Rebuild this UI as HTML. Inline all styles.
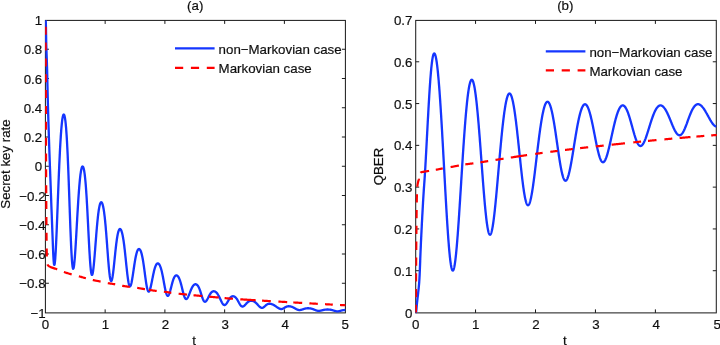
<!DOCTYPE html>
<html lang="en"><head><meta charset="utf-8"><title>Secret key rate and QBER</title>
<style>html,body{margin:0;padding:0;background:#fff;}body{width:720px;height:345px;overflow:hidden;font-family:"Liberation Sans",Arial,sans-serif;}svg text{white-space:pre;stroke:#111;stroke-width:0.2px;paint-order:stroke;}</style>
</head><body>
<svg width="720" height="345" viewBox="0 0 720 345" style="display:block" font-family="'Liberation Sans', Arial, Helvetica, sans-serif" font-size="13.3" fill="#111">
<rect width="720" height="345" fill="#fff"/>
<filter id="soft" x="0" y="0" width="720" height="345" filterUnits="userSpaceOnUse"><feGaussianBlur stdDeviation="0.35"/></filter>
<g filter="url(#soft)">
<defs><clipPath id="cl"><rect x="45.1" y="19.9" width="300.7" height="293.5"/></clipPath><clipPath id="cr"><rect x="415.4" y="19.9" width="301.4" height="293.5"/></clipPath></defs>
<rect x="45.4" y="20.4" width="300" height="292.5" fill="none" stroke="#1a1a1a" stroke-width="1"/><path d="M105.15 312.9v-3.5M105.15 20.4v3.5M164.9 312.9v-3.5M164.9 20.4v3.5M224.65 312.9v-3.5M224.65 20.4v3.5M284.4 312.9v-3.5M284.4 20.4v3.5M45.4 49.25h3.5M345.4 49.25h-3.5M45.4 78.5h3.5M345.4 78.5h-3.5M45.4 107.75h3.5M345.4 107.75h-3.5M45.4 137h3.5M345.4 137h-3.5M45.4 166.25h3.5M345.4 166.25h-3.5M45.4 195.5h3.5M345.4 195.5h-3.5M45.4 224.75h3.5M345.4 224.75h-3.5M45.4 254h3.5M345.4 254h-3.5M45.4 283.25h3.5M345.4 283.25h-3.5" stroke="#1a1a1a" stroke-width="1" fill="none"/>
<g clip-path="url(#cl)" fill="none" stroke-linejoin="round">
<path d="M45.4 20.61 L45.59 20.62 L45.78 21.66 L45.96 27.36 L46.15 39.56 L46.34 47 L46.53 52.66 L46.71 57.57 L46.9 62.72 L47.09 69.29 L47.28 77.09 L47.46 85.52 L47.65 93.93 L47.84 101.5 L48.03 108.41 L48.21 114.96 L48.4 121.21 L48.59 127.24 L48.78 133.14 L48.96 138.98 L49.15 144.76 L49.34 150.29 L49.53 155.62 L49.72 160.79 L49.9 165.85 L50.09 170.85 L50.28 175.85 L50.47 180.88 L50.65 185.99 L50.84 191.23 L51.03 196.41 L51.22 201.47 L51.4 206.46 L51.59 211.39 L51.78 216.29 L51.97 221.18 L52.15 226.06 L52.34 230.92 L52.53 235.76 L52.72 240.68 L52.9 245.57 L53.09 250.21 L53.28 254.4 L53.47 257.99 L53.66 260.87 L53.84 262.97 L54.03 264.29 L54.22 264.89 L54.41 264.87 L54.59 264.29 L54.78 263.19 L54.97 261.6 L55.16 259.55 L55.34 257.08 L55.53 254.22 L55.72 251 L55.91 247.47 L56.09 243.66 L56.28 239.6 L56.47 235.32 L56.66 230.86 L56.84 226.26 L57.03 221.54 L57.22 216.73 L57.41 211.86 L57.6 206.95 L57.78 202.04 L57.97 197.14 L58.16 192.28 L58.35 187.47 L58.53 182.74 L58.72 178.1 L58.91 173.57 L59.1 169.15 L59.28 164.87 L59.47 160.73 L59.66 156.74 L59.85 152.92 L60.03 149.26 L60.22 145.78 L60.41 142.48 L60.6 139.36 L60.78 136.42 L60.97 133.67 L61.16 131.11 L61.35 128.74 L61.54 126.56 L61.72 124.57 L61.91 122.76 L62.1 121.14 L62.29 119.71 L62.47 118.45 L62.66 117.37 L62.85 116.46 L63.04 115.73 L63.22 115.17 L63.41 114.78 L63.6 114.56 L63.79 114.5 L63.97 114.61 L64.16 114.89 L64.35 115.33 L64.54 115.94 L64.72 116.72 L64.91 117.68 L65.1 118.82 L65.29 120.14 L65.48 121.66 L65.66 123.38 L65.85 125.29 L66.04 127.42 L66.23 129.75 L66.41 132.31 L66.6 135.08 L66.79 138.09 L66.98 141.32 L67.16 144.77 L67.35 148.46 L67.54 152.37 L67.73 156.49 L67.91 160.83 L68.1 165.36 L68.29 170.08 L68.48 174.97 L68.66 180 L68.85 185.15 L69.04 190.4 L69.23 195.72 L69.42 201.08 L69.6 206.45 L69.79 211.79 L69.98 217.06 L70.17 222.24 L70.35 227.29 L70.54 232.16 L70.73 236.84 L70.92 241.28 L71.1 245.46 L71.29 249.35 L71.48 252.92 L71.67 256.16 L71.85 259.05 L72.04 261.56 L72.23 263.71 L72.42 265.47 L72.6 266.85 L72.79 267.85 L72.98 268.48 L73.17 268.74 L73.35 268.65 L73.54 268.22 L73.73 267.47 L73.92 266.42 L74.11 265.07 L74.29 263.45 L74.48 261.57 L74.67 259.47 L74.86 257.15 L75.04 254.64 L75.23 251.96 L75.42 249.13 L75.61 246.17 L75.79 243.1 L75.98 239.94 L76.17 236.71 L76.36 233.42 L76.54 230.1 L76.73 226.76 L76.92 223.42 L77.11 220.1 L77.29 216.8 L77.48 213.54 L77.67 210.34 L77.86 207.21 L78.05 204.15 L78.23 201.17 L78.42 198.29 L78.61 195.52 L78.8 192.85 L78.98 190.3 L79.17 187.87 L79.36 185.56 L79.55 183.38 L79.73 181.33 L79.92 179.42 L80.11 177.64 L80.3 175.99 L80.48 174.48 L80.67 173.11 L80.86 171.87 L81.05 170.76 L81.23 169.78 L81.42 168.93 L81.61 168.22 L81.8 167.62 L81.99 167.16 L82.17 166.82 L82.36 166.6 L82.55 166.51 L82.74 166.53 L82.92 166.68 L83.11 166.95 L83.3 167.34 L83.49 167.86 L83.67 168.5 L83.86 169.27 L84.05 170.17 L84.24 171.21 L84.42 172.39 L84.61 173.71 L84.8 175.18 L84.99 176.8 L85.17 178.58 L85.36 180.51 L85.55 182.6 L85.74 184.86 L85.93 187.27 L86.11 189.85 L86.3 192.59 L86.49 195.48 L86.68 198.52 L86.86 201.7 L87.05 205 L87.24 208.43 L87.43 211.97 L87.61 215.59 L87.8 219.28 L87.99 223.03 L88.18 226.8 L88.36 230.58 L88.55 234.34 L88.74 238.07 L88.93 241.72 L89.11 245.29 L89.3 248.74 L89.49 252.06 L89.68 255.21 L89.87 258.18 L90.05 260.95 L90.24 263.5 L90.43 265.81 L90.62 267.88 L90.8 269.69 L90.99 271.24 L91.18 272.51 L91.37 273.52 L91.55 274.26 L91.74 274.73 L91.93 274.94 L92.12 274.89 L92.3 274.61 L92.49 274.09 L92.68 273.35 L92.87 272.39 L93.05 271.24 L93.24 269.89 L93.43 268.38 L93.62 266.71 L93.81 264.9 L93.99 262.96 L94.18 260.9 L94.37 258.75 L94.56 256.52 L94.74 254.22 L94.93 251.87 L95.12 249.48 L95.31 247.06 L95.49 244.63 L95.68 242.21 L95.87 239.79 L96.06 237.4 L96.24 235.04 L96.43 232.72 L96.62 230.46 L96.81 228.25 L96.99 226.12 L97.18 224.05 L97.37 222.07 L97.56 220.17 L97.75 218.36 L97.93 216.64 L98.12 215.01 L98.31 213.48 L98.5 212.05 L98.68 210.72 L98.87 209.5 L99.06 208.37 L99.25 207.34 L99.43 206.41 L99.62 205.57 L99.81 204.84 L100 204.2 L100.18 203.65 L100.37 203.2 L100.56 202.83 L100.75 202.56 L100.93 202.37 L101.12 202.27 L101.31 202.25 L101.5 202.32 L101.69 202.48 L101.87 202.72 L102.06 203.04 L102.25 203.45 L102.44 203.94 L102.62 204.52 L102.81 205.18 L103 205.94 L103.19 206.78 L103.37 207.72 L103.56 208.75 L103.75 209.87 L103.94 211.09 L104.12 212.41 L104.31 213.82 L104.5 215.33 L104.69 216.94 L104.87 218.65 L105.06 220.46 L105.25 222.36 L105.44 224.35 L105.63 226.43 L105.81 228.6 L106 230.84 L106.19 233.15 L106.38 235.52 L106.56 237.95 L106.75 240.42 L106.94 242.93 L107.13 245.46 L107.31 247.99 L107.5 250.53 L107.69 253.04 L107.88 255.53 L108.06 257.97 L108.25 260.35 L108.44 262.66 L108.63 264.89 L108.81 267.01 L109 269.02 L109.19 270.91 L109.38 272.66 L109.57 274.26 L109.75 275.71 L109.94 276.99 L110.13 278.11 L110.32 279.05 L110.5 279.81 L110.69 280.39 L110.88 280.79 L111.07 281 L111.25 281.04 L111.44 280.9 L111.63 280.59 L111.82 280.12 L112 279.48 L112.19 278.69 L112.38 277.75 L112.57 276.68 L112.75 275.48 L112.94 274.17 L113.13 272.75 L113.32 271.23 L113.51 269.64 L113.69 267.97 L113.88 266.25 L114.07 264.48 L114.26 262.67 L114.44 260.84 L114.63 259 L114.82 257.15 L115.01 255.32 L115.19 253.5 L115.38 251.71 L115.57 249.96 L115.76 248.25 L115.94 246.59 L116.13 244.99 L116.32 243.46 L116.51 241.99 L116.69 240.59 L116.88 239.27 L117.07 238.03 L117.26 236.87 L117.45 235.78 L117.63 234.79 L117.82 233.87 L118.01 233.04 L118.2 232.29 L118.38 231.62 L118.57 231.03 L118.76 230.52 L118.95 230.09 L119.13 229.73 L119.32 229.45 L119.51 229.23 L119.7 229.09 L119.88 229.01 L120.07 229 L120.26 229.06 L120.45 229.18 L120.63 229.37 L120.82 229.62 L121.01 229.93 L121.2 230.31 L121.38 230.75 L121.57 231.26 L121.76 231.83 L121.95 232.46 L122.14 233.17 L122.32 233.94 L122.51 234.78 L122.7 235.69 L122.89 236.67 L123.07 237.72 L123.26 238.84 L123.45 240.03 L123.64 241.29 L123.82 242.62 L124.01 244.01 L124.2 245.47 L124.39 246.99 L124.57 248.57 L124.76 250.19 L124.95 251.87 L125.14 253.59 L125.32 255.35 L125.51 257.13 L125.7 258.93 L125.89 260.75 L126.08 262.57 L126.26 264.39 L126.45 266.19 L126.64 267.97 L126.83 269.72 L127.01 271.42 L127.2 273.07 L127.39 274.66 L127.58 276.17 L127.76 277.61 L127.95 278.96 L128.14 280.21 L128.33 281.36 L128.51 282.4 L128.7 283.33 L128.89 284.14 L129.08 284.82 L129.26 285.38 L129.45 285.82 L129.64 286.12 L129.83 286.3 L130.02 286.35 L130.2 286.28 L130.39 286.08 L130.58 285.77 L130.77 285.35 L130.95 284.82 L131.14 284.19 L131.33 283.47 L131.52 282.66 L131.7 281.76 L131.89 280.8 L132.08 279.76 L132.27 278.67 L132.45 277.53 L132.64 276.35 L132.83 275.13 L133.02 273.88 L133.2 272.61 L133.39 271.33 L133.58 270.05 L133.77 268.77 L133.96 267.49 L134.14 266.23 L134.33 264.99 L134.52 263.78 L134.71 262.59 L134.89 261.44 L135.08 260.33 L135.27 259.27 L135.46 258.24 L135.64 257.27 L135.83 256.35 L136.02 255.48 L136.21 254.67 L136.39 253.91 L136.58 253.2 L136.77 252.55 L136.96 251.96 L137.14 251.43 L137.33 250.95 L137.52 250.52 L137.71 250.15 L137.9 249.83 L138.08 249.57 L138.27 249.36 L138.46 249.19 L138.65 249.08 L138.83 249.02 L139.02 249 L139.21 249.03 L139.4 249.11 L139.58 249.24 L139.77 249.41 L139.96 249.63 L140.15 249.9 L140.33 250.22 L140.52 250.58 L140.71 251 L140.9 251.47 L141.08 251.99 L141.27 252.57 L141.46 253.2 L141.65 253.89 L141.84 254.63 L142.02 255.43 L142.21 256.29 L142.4 257.21 L142.59 258.18 L142.77 259.21 L142.96 260.3 L143.15 261.43 L143.34 262.62 L143.52 263.86 L143.71 265.14 L143.9 266.46 L144.09 267.81 L144.27 269.19 L144.46 270.59 L144.65 272 L144.84 273.42 L145.02 274.84 L145.21 276.25 L145.4 277.64 L145.59 279.01 L145.78 280.34 L145.96 281.63 L146.15 282.87 L146.34 284.05 L146.53 285.16 L146.71 286.2 L146.9 287.17 L147.09 288.04 L147.28 288.83 L147.46 289.53 L147.65 290.13 L147.84 290.63 L148.03 291.03 L148.21 291.33 L148.4 291.53 L148.59 291.64 L148.78 291.64 L148.96 291.55 L149.15 291.37 L149.34 291.11 L149.53 290.76 L149.72 290.33 L149.9 289.83 L150.09 289.26 L150.28 288.62 L150.47 287.93 L150.65 287.18 L150.84 286.39 L151.03 285.56 L151.22 284.69 L151.4 283.79 L151.59 282.87 L151.78 281.94 L151.97 280.99 L152.15 280.03 L152.34 279.07 L152.53 278.12 L152.72 277.17 L152.9 276.24 L153.09 275.32 L153.28 274.42 L153.47 273.54 L153.66 272.69 L153.84 271.87 L154.03 271.09 L154.22 270.33 L154.41 269.61 L154.59 268.93 L154.78 268.29 L154.97 267.68 L155.16 267.12 L155.34 266.59 L155.53 266.11 L155.72 265.67 L155.91 265.27 L156.09 264.91 L156.28 264.59 L156.47 264.31 L156.66 264.07 L156.84 263.86 L157.03 263.7 L157.22 263.57 L157.41 263.48 L157.6 263.42 L157.78 263.4 L157.97 263.41 L158.16 263.46 L158.35 263.55 L158.53 263.67 L158.72 263.82 L158.91 264.01 L159.1 264.23 L159.28 264.49 L159.47 264.78 L159.66 265.11 L159.85 265.48 L160.03 265.88 L160.22 266.33 L160.41 266.81 L160.6 267.33 L160.78 267.89 L160.97 268.49 L161.16 269.13 L161.35 269.81 L161.54 270.53 L161.72 271.29 L161.91 272.08 L162.1 272.92 L162.29 273.78 L162.47 274.68 L162.66 275.61 L162.85 276.57 L163.04 277.55 L163.22 278.56 L163.41 279.58 L163.6 280.6 L163.79 281.64 L163.97 282.68 L164.16 283.71 L164.35 284.74 L164.54 285.75 L164.72 286.74 L164.91 287.71 L165.1 288.64 L165.29 289.54 L165.48 290.39 L165.66 291.19 L165.85 291.95 L166.04 292.64 L166.23 293.28 L166.41 293.85 L166.6 294.35 L166.79 294.78 L166.98 295.14 L167.16 295.43 L167.35 295.64 L167.54 295.78 L167.73 295.84 L167.91 295.84 L168.1 295.76 L168.29 295.61 L168.48 295.39 L168.66 295.11 L168.85 294.77 L169.04 294.37 L169.23 293.92 L169.42 293.41 L169.6 292.86 L169.79 292.28 L169.98 291.65 L170.17 291 L170.35 290.31 L170.54 289.61 L170.73 288.89 L170.92 288.16 L171.1 287.42 L171.29 286.69 L171.48 285.95 L171.67 285.22 L171.85 284.5 L172.04 283.79 L172.23 283.1 L172.42 282.43 L172.6 281.78 L172.79 281.16 L172.98 280.56 L173.17 280 L173.35 279.46 L173.54 278.96 L173.73 278.49 L173.92 278.06 L174.11 277.66 L174.29 277.29 L174.48 276.96 L174.67 276.66 L174.86 276.39 L175.04 276.16 L175.23 275.96 L175.42 275.79 L175.61 275.65 L175.79 275.55 L175.98 275.47 L176.17 275.42 L176.36 275.4 L176.54 275.41 L176.73 275.44 L176.92 275.51 L177.11 275.59 L177.29 275.71 L177.48 275.85 L177.67 276.02 L177.86 276.22 L178.05 276.44 L178.23 276.7 L178.42 276.98 L178.61 277.29 L178.8 277.63 L178.98 278 L179.17 278.41 L179.36 278.84 L179.55 279.31 L179.73 279.8 L179.92 280.33 L180.11 280.89 L180.3 281.48 L180.48 282.09 L180.67 282.74 L180.86 283.41 L181.05 284.1 L181.23 284.81 L181.42 285.55 L181.61 286.3 L181.8 287.06 L181.99 287.83 L182.17 288.6 L182.36 289.38 L182.55 290.15 L182.74 290.92 L182.92 291.67 L183.11 292.41 L183.3 293.12 L183.49 293.81 L183.67 294.47 L183.86 295.1 L184.05 295.69 L184.24 296.24 L184.42 296.74 L184.61 297.2 L184.8 297.61 L184.99 297.97 L185.17 298.28 L185.36 298.54 L185.55 298.75 L185.74 298.9 L185.93 299 L186.11 299.05 L186.3 299.04 L186.49 298.99 L186.68 298.89 L186.86 298.75 L187.05 298.57 L187.24 298.34 L187.43 298.08 L187.61 297.79 L187.8 297.46 L187.99 297.11 L188.18 296.73 L188.36 296.33 L188.55 295.9 L188.74 295.47 L188.93 295.01 L189.11 294.55 L189.3 294.07 L189.49 293.59 L189.68 293.11 L189.87 292.63 L190.05 292.14 L190.24 291.66 L190.43 291.19 L190.62 290.72 L190.8 290.26 L190.99 289.81 L191.18 289.37 L191.37 288.95 L191.55 288.54 L191.74 288.14 L191.93 287.77 L192.12 287.41 L192.3 287.06 L192.49 286.74 L192.68 286.43 L192.87 286.15 L193.05 285.88 L193.24 285.64 L193.43 285.41 L193.62 285.21 L193.81 285.03 L193.99 284.86 L194.18 284.72 L194.37 284.59 L194.56 284.49 L194.74 284.4 L194.93 284.34 L195.12 284.29 L195.31 284.26 L195.49 284.25 L195.68 284.26 L195.87 284.29 L196.06 284.33 L196.24 284.4 L196.43 284.48 L196.62 284.58 L196.81 284.71 L196.99 284.85 L197.18 285.02 L197.37 285.2 L197.56 285.41 L197.75 285.65 L197.93 285.9 L198.12 286.18 L198.31 286.49 L198.5 286.82 L198.68 287.17 L198.87 287.55 L199.06 287.96 L199.25 288.39 L199.43 288.85 L199.62 289.33 L199.81 289.84 L200 290.36 L200.18 290.91 L200.37 291.47 L200.56 292.05 L200.75 292.64 L200.93 293.24 L201.12 293.84 L201.31 294.45 L201.5 295.06 L201.69 295.66 L201.87 296.25 L202.06 296.83 L202.25 297.39 L202.44 297.92 L202.62 298.44 L202.81 298.92 L203 299.38 L203.19 299.8 L203.37 300.18 L203.56 300.52 L203.75 300.82 L203.94 301.08 L204.12 301.3 L204.31 301.47 L204.5 301.6 L204.69 301.69 L204.87 301.74 L205.06 301.75 L205.25 301.72 L205.44 301.65 L205.63 301.54 L205.81 301.4 L206 301.23 L206.19 301.03 L206.38 300.8 L206.56 300.55 L206.75 300.27 L206.94 299.97 L207.13 299.65 L207.31 299.32 L207.5 298.98 L207.69 298.62 L207.88 298.26 L208.06 297.89 L208.25 297.52 L208.44 297.14 L208.63 296.77 L208.81 296.4 L209 296.04 L209.19 295.68 L209.38 295.33 L209.57 294.99 L209.75 294.67 L209.94 294.35 L210.13 294.05 L210.32 293.76 L210.5 293.48 L210.69 293.22 L210.88 292.98 L211.07 292.75 L211.25 292.54 L211.44 292.35 L211.63 292.17 L211.82 292.01 L212 291.87 L212.19 291.74 L212.38 291.62 L212.57 291.53 L212.75 291.44 L212.94 291.38 L213.13 291.32 L213.32 291.29 L213.51 291.26 L213.69 291.25 L213.88 291.25 L214.07 291.27 L214.26 291.3 L214.44 291.34 L214.63 291.4 L214.82 291.46 L215.01 291.54 L215.19 291.64 L215.38 291.74 L215.57 291.86 L215.76 291.99 L215.94 292.14 L216.13 292.3 L216.32 292.47 L216.51 292.66 L216.69 292.86 L216.88 293.07 L217.07 293.3 L217.26 293.54 L217.45 293.79 L217.63 294.06 L217.82 294.35 L218.01 294.64 L218.2 294.95 L218.38 295.28 L218.57 295.61 L218.76 295.96 L218.95 296.32 L219.13 296.69 L219.32 297.06 L219.51 297.45 L219.7 297.84 L219.88 298.24 L220.07 298.64 L220.26 299.05 L220.45 299.45 L220.63 299.86 L220.82 300.26 L221.01 300.66 L221.2 301.05 L221.38 301.43 L221.57 301.81 L221.76 302.17 L221.95 302.52 L222.14 302.85 L222.32 303.17 L222.51 303.46 L222.7 303.73 L222.89 303.99 L223.07 304.21 L223.26 304.42 L223.45 304.59 L223.64 304.74 L223.82 304.86 L224.01 304.95 L224.2 305.01 L224.39 305.05 L224.57 305.05 L224.76 305.02 L224.95 304.97 L225.14 304.88 L225.32 304.77 L225.51 304.64 L225.7 304.48 L225.89 304.29 L226.08 304.09 L226.26 303.86 L226.45 303.62 L226.64 303.35 L226.83 303.08 L227.01 302.79 L227.2 302.49 L227.39 302.19 L227.58 301.87 L227.76 301.56 L227.95 301.24 L228.14 300.92 L228.33 300.6 L228.51 300.28 L228.7 299.97 L228.89 299.67 L229.08 299.37 L229.26 299.08 L229.45 298.81 L229.64 298.54 L229.83 298.29 L230.02 298.05 L230.2 297.83 L230.39 297.62 L230.58 297.42 L230.77 297.24 L230.95 297.08 L231.14 296.93 L231.33 296.8 L231.52 296.68 L231.7 296.57 L231.89 296.49 L232.08 296.41 L232.27 296.35 L232.45 296.31 L232.64 296.27 L232.83 296.26 L233.02 296.25 L233.2 296.26 L233.39 296.28 L233.58 296.31 L233.77 296.36 L233.96 296.41 L234.14 296.48 L234.33 296.57 L234.52 296.66 L234.71 296.77 L234.89 296.89 L235.08 297.03 L235.27 297.18 L235.46 297.34 L235.64 297.52 L235.83 297.71 L236.02 297.92 L236.21 298.14 L236.39 298.38 L236.58 298.63 L236.77 298.9 L236.96 299.17 L237.14 299.46 L237.33 299.77 L237.52 300.08 L237.71 300.4 L237.9 300.74 L238.08 301.08 L238.27 301.42 L238.46 301.77 L238.65 302.12 L238.83 302.47 L239.02 302.81 L239.21 303.15 L239.4 303.49 L239.58 303.82 L239.77 304.13 L239.96 304.43 L240.15 304.72 L240.33 304.99 L240.52 305.24 L240.71 305.48 L240.9 305.69 L241.08 305.88 L241.27 306.05 L241.46 306.19 L241.65 306.31 L241.84 306.4 L242.02 306.47 L242.21 306.52 L242.4 306.55 L242.59 306.55 L242.77 306.53 L242.96 306.49 L243.15 306.43 L243.34 306.34 L243.52 306.25 L243.71 306.13 L243.9 306 L244.09 305.86 L244.27 305.7 L244.46 305.53 L244.65 305.36 L244.84 305.17 L245.02 304.98 L245.21 304.78 L245.4 304.58 L245.59 304.37 L245.78 304.17 L245.96 303.96 L246.15 303.76 L246.34 303.55 L246.53 303.35 L246.71 303.16 L246.9 302.96 L247.09 302.78 L247.28 302.6 L247.46 302.43 L247.65 302.26 L247.84 302.1 L248.03 301.95 L248.21 301.81 L248.4 301.68 L248.59 301.56 L248.78 301.44 L248.96 301.34 L249.15 301.24 L249.34 301.15 L249.53 301.08 L249.72 301.01 L249.9 300.95 L250.09 300.89 L250.28 300.85 L250.47 300.81 L250.65 300.79 L250.84 300.77 L251.03 300.76 L251.22 300.75 L251.4 300.75 L251.59 300.76 L251.78 300.78 L251.97 300.8 L252.15 300.83 L252.34 300.87 L252.53 300.91 L252.72 300.96 L252.9 301.02 L253.09 301.08 L253.28 301.15 L253.47 301.23 L253.66 301.31 L253.84 301.4 L254.03 301.5 L254.22 301.6 L254.41 301.71 L254.59 301.83 L254.78 301.96 L254.97 302.09 L255.16 302.23 L255.34 302.37 L255.53 302.52 L255.72 302.68 L255.91 302.85 L256.09 303.02 L256.28 303.2 L256.47 303.38 L256.66 303.57 L256.84 303.76 L257.03 303.96 L257.22 304.16 L257.41 304.36 L257.6 304.56 L257.78 304.77 L257.97 304.98 L258.16 305.19 L258.35 305.39 L258.53 305.6 L258.72 305.8 L258.91 305.99 L259.1 306.19 L259.28 306.37 L259.47 306.55 L259.66 306.72 L259.85 306.88 L260.03 307.04 L260.22 307.18 L260.41 307.31 L260.6 307.43 L260.78 307.53 L260.97 307.62 L261.16 307.7 L261.35 307.76 L261.54 307.8 L261.72 307.83 L261.91 307.85 L262.1 307.85 L262.29 307.83 L262.47 307.8 L262.66 307.75 L262.85 307.68 L263.04 307.6 L263.22 307.51 L263.41 307.4 L263.6 307.28 L263.79 307.14 L263.97 307 L264.16 306.85 L264.35 306.69 L264.54 306.53 L264.72 306.36 L264.91 306.18 L265.1 306.01 L265.29 305.84 L265.48 305.66 L265.66 305.5 L265.85 305.33 L266.04 305.17 L266.23 305.02 L266.41 304.87 L266.6 304.73 L266.79 304.6 L266.98 304.48 L267.16 304.37 L267.35 304.27 L267.54 304.18 L267.73 304.09 L267.91 304.02 L268.1 303.96 L268.29 303.9 L268.48 303.86 L268.66 303.82 L268.85 303.79 L269.04 303.77 L269.23 303.76 L269.42 303.75 L269.6 303.75 L269.79 303.76 L269.98 303.77 L270.17 303.79 L270.35 303.81 L270.54 303.84 L270.73 303.88 L270.92 303.92 L271.1 303.96 L271.29 304.01 L271.48 304.06 L271.67 304.12 L271.85 304.18 L272.04 304.24 L272.23 304.31 L272.42 304.39 L272.6 304.46 L272.79 304.54 L272.98 304.63 L273.17 304.72 L273.35 304.81 L273.54 304.91 L273.73 305.01 L273.92 305.11 L274.11 305.21 L274.29 305.32 L274.48 305.44 L274.67 305.55 L274.86 305.67 L275.04 305.79 L275.23 305.91 L275.42 306.04 L275.61 306.16 L275.79 306.29 L275.98 306.42 L276.17 306.55 L276.36 306.68 L276.54 306.81 L276.73 306.95 L276.92 307.08 L277.11 307.21 L277.29 307.34 L277.48 307.47 L277.67 307.59 L277.86 307.72 L278.05 307.84 L278.23 307.96 L278.42 308.07 L278.61 308.19 L278.8 308.29 L278.98 308.39 L279.17 308.49 L279.36 308.58 L279.55 308.66 L279.73 308.74 L279.92 308.81 L280.11 308.87 L280.3 308.92 L280.48 308.97 L280.67 309 L280.86 309.03 L281.05 309.04 L281.23 309.05 L281.42 309.05 L281.61 309.03 L281.8 309.01 L281.99 308.97 L282.17 308.93 L282.36 308.87 L282.55 308.81 L282.74 308.73 L282.92 308.65 L283.11 308.56 L283.3 308.47 L283.49 308.36 L283.67 308.26 L283.86 308.14 L284.05 308.03 L284.24 307.91 L284.42 307.8 L284.61 307.68 L284.8 307.56 L284.99 307.45 L285.17 307.33 L285.36 307.22 L285.55 307.12 L285.74 307.02 L285.93 306.92 L286.11 306.83 L286.3 306.75 L286.49 306.67 L286.68 306.6 L286.86 306.54 L287.05 306.48 L287.24 306.43 L287.43 306.39 L287.61 306.35 L287.8 306.32 L287.99 306.29 L288.18 306.27 L288.36 306.26 L288.55 306.25 L288.74 306.25 L288.93 306.25 L289.11 306.26 L289.3 306.27 L289.49 306.29 L289.68 306.31 L289.87 306.33 L290.05 306.36 L290.24 306.39 L290.43 306.43 L290.62 306.47 L290.8 306.51 L290.99 306.56 L291.18 306.61 L291.37 306.66 L291.55 306.72 L291.74 306.79 L291.93 306.85 L292.12 306.92 L292.3 307 L292.49 307.07 L292.68 307.16 L292.87 307.24 L293.05 307.33 L293.24 307.42 L293.43 307.51 L293.62 307.61 L293.81 307.71 L293.99 307.81 L294.18 307.92 L294.37 308.02 L294.56 308.13 L294.74 308.24 L294.93 308.35 L295.12 308.46 L295.31 308.57 L295.49 308.67 L295.68 308.78 L295.87 308.89 L296.06 308.99 L296.24 309.09 L296.43 309.19 L296.62 309.28 L296.81 309.37 L296.99 309.46 L297.18 309.54 L297.37 309.62 L297.56 309.69 L297.75 309.75 L297.93 309.81 L298.12 309.87 L298.31 309.91 L298.5 309.95 L298.68 309.99 L298.87 310.01 L299.06 310.03 L299.25 310.04 L299.43 310.05 L299.62 310.05 L299.81 310.04 L300 310.03 L300.18 310.01 L300.37 309.98 L300.56 309.95 L300.75 309.91 L300.93 309.87 L301.12 309.83 L301.31 309.78 L301.5 309.73 L301.69 309.67 L301.87 309.61 L302.06 309.55 L302.25 309.49 L302.44 309.43 L302.62 309.36 L302.81 309.3 L303 309.23 L303.19 309.17 L303.37 309.1 L303.56 309.04 L303.75 308.98 L303.94 308.92 L304.12 308.86 L304.31 308.8 L304.5 308.75 L304.69 308.69 L304.87 308.64 L305.06 308.6 L305.25 308.55 L305.44 308.51 L305.63 308.47 L305.81 308.44 L306 308.41 L306.19 308.38 L306.38 308.35 L306.56 308.33 L306.75 308.31 L306.94 308.29 L307.13 308.28 L307.31 308.27 L307.5 308.26 L307.69 308.25 L307.88 308.25 L308.06 308.25 L308.25 308.25 L308.44 308.26 L308.63 308.26 L308.81 308.27 L309 308.29 L309.19 308.3 L309.38 308.32 L309.57 308.34 L309.75 308.36 L309.94 308.38 L310.13 308.41 L310.32 308.44 L310.5 308.47 L310.69 308.5 L310.88 308.54 L311.07 308.58 L311.25 308.62 L311.44 308.67 L311.63 308.71 L311.82 308.77 L312 308.82 L312.19 308.87 L312.38 308.93 L312.57 308.99 L312.75 309.06 L312.94 309.12 L313.13 309.19 L313.32 309.26 L313.51 309.34 L313.69 309.41 L313.88 309.49 L314.07 309.56 L314.26 309.64 L314.44 309.72 L314.63 309.79 L314.82 309.87 L315.01 309.95 L315.19 310.03 L315.38 310.1 L315.57 310.17 L315.76 310.24 L315.94 310.31 L316.13 310.38 L316.32 310.44 L316.51 310.5 L316.69 310.55 L316.88 310.6 L317.07 310.65 L317.26 310.69 L317.45 310.73 L317.63 310.76 L317.82 310.79 L318.01 310.81 L318.2 310.83 L318.38 310.84 L318.57 310.85 L318.76 310.85 L318.95 310.85 L319.13 310.84 L319.32 310.83 L319.51 310.81 L319.7 310.79 L319.88 310.77 L320.07 310.74 L320.26 310.71 L320.45 310.67 L320.63 310.64 L320.82 310.6 L321.01 310.56 L321.2 310.51 L321.38 310.47 L321.57 310.42 L321.76 310.38 L321.95 310.33 L322.14 310.28 L322.32 310.23 L322.51 310.19 L322.7 310.14 L322.89 310.09 L323.07 310.05 L323.26 310 L323.45 309.96 L323.64 309.92 L323.82 309.88 L324.01 309.84 L324.2 309.81 L324.39 309.77 L324.57 309.74 L324.76 309.71 L324.95 309.68 L325.14 309.65 L325.32 309.63 L325.51 309.61 L325.7 309.59 L325.89 309.57 L326.08 309.55 L326.26 309.54 L326.45 309.53 L326.64 309.52 L326.83 309.51 L327.01 309.51 L327.2 309.5 L327.39 309.5 L327.58 309.5 L327.76 309.5 L327.95 309.51 L328.14 309.51 L328.33 309.52 L328.51 309.53 L328.7 309.54 L328.89 309.55 L329.08 309.56 L329.26 309.58 L329.45 309.6 L329.64 309.62 L329.83 309.64 L330.02 309.67 L330.2 309.69 L330.39 309.72 L330.58 309.75 L330.77 309.79 L330.95 309.82 L331.14 309.86 L331.33 309.9 L331.52 309.94 L331.7 309.99 L331.89 310.03 L332.08 310.08 L332.27 310.13 L332.45 310.18 L332.64 310.24 L332.83 310.29 L333.02 310.35 L333.2 310.41 L333.39 310.47 L333.58 310.52 L333.77 310.58 L333.96 310.64 L334.14 310.7 L334.33 310.76 L334.52 310.82 L334.71 310.88 L334.89 310.93 L335.08 310.98 L335.27 311.03 L335.46 311.08 L335.64 311.12 L335.83 311.17 L336.02 311.2 L336.21 311.24 L336.39 311.27 L336.58 311.29 L336.77 311.31 L336.96 311.33 L337.14 311.34 L337.33 311.35 L337.52 311.35 L337.71 311.35 L337.9 311.34 L338.08 311.33 L338.27 311.31 L338.46 311.28 L338.65 311.26 L338.83 311.23 L339.02 311.19 L339.21 311.15 L339.4 311.11 L339.58 311.06 L339.77 311.01 L339.96 310.96 L340.15 310.91 L340.33 310.86 L340.52 310.8 L340.71 310.75 L340.9 310.69 L341.08 310.64 L341.27 310.59 L341.46 310.53 L341.65 310.48 L341.84 310.44 L342.02 310.39 L342.21 310.35 L342.4 310.31 L342.59 310.27 L342.77 310.23 L342.96 310.2 L343.15 310.17 L343.34 310.14 L343.52 310.12 L343.71 310.09 L343.9 310.07 L344.09 310.06 L344.27 310.04 L344.46 310.03 L344.65 310.02 L344.84 310.01 L345.02 310.01 L345.21 310 L345.4 310" stroke="#1236ff" stroke-width="2.3"/>
<path d="M45.6 20.5 L45.6 21.18 L45.6 21.87 L45.6 22.55 L45.61 23.23 L45.61 23.92 L45.61 24.6 L45.61 25.28 L45.61 25.97 L45.61 26.65 L45.61 27.33 L45.62 28.02 L45.62 28.7 L45.62 29.38 L45.62 30.07 L45.62 30.75 L45.62 31.43 L45.63 32.12 L45.63 32.8 L45.63 33.48 L45.63 34.17 L45.63 34.85 L45.63 35.53 L45.63 36.22 L45.64 36.9 L45.64 37.59 L45.64 38.27 L45.64 38.95 L45.64 39.64 L45.64 40.32 L45.65 41 L45.65 41.69 L45.65 42.37 L45.65 43.05 L45.65 43.74 L45.66 44.42 L45.66 45.1 L45.66 45.79 L45.66 46.47 L45.66 47.15 L45.66 47.84 L45.67 48.52 L45.67 49.2 L45.67 49.89 L45.67 50.57 L45.67 51.25 L45.68 51.94 L45.68 52.62 L45.68 53.3 L45.68 53.99 L45.68 54.67 L45.68 55.35 L45.69 56.04 L45.69 56.72 L45.69 57.4 L45.69 58.09 L45.69 58.77 L45.7 59.45 L45.7 60.14 L45.7 60.82 L45.7 61.5 L45.7 62.19 L45.71 62.87 L45.71 63.55 L45.71 64.24 L45.71 64.92 L45.71 65.6 L45.72 66.29 L45.72 66.97 L45.72 67.65 L45.72 68.34 L45.72 69.02 L45.73 69.71 L45.73 70.39 L45.73 71.07 L45.73 71.76 L45.74 72.44 L45.74 73.12 L45.74 73.81 L45.74 74.49 L45.74 75.17 L45.75 75.86 L45.75 76.54 L45.75 77.22 L45.75 77.91 L45.75 78.59 L45.76 79.27 L45.76 79.96 L45.76 80.64 L45.76 81.32 L45.77 82.01 L45.77 82.69 L45.77 83.37 L45.77 84.06 L45.77 84.74 L45.78 85.42 L45.78 86.11 L45.78 86.79 L45.78 87.47 L45.79 88.16 L45.79 88.84 L45.79 89.52 L45.79 90.21 L45.8 90.89 L45.8 91.57 L45.8 92.26 L45.8 92.94 L45.8 93.62 L45.81 94.31 L45.81 94.99 L45.81 95.67 L45.81 96.36 L45.82 97.04 L45.82 97.72 L45.82 98.41 L45.82 99.09 L45.83 99.77 L45.83 100.46 L45.83 101.14 L45.83 101.82 L45.84 102.51 L45.84 103.19 L45.84 103.88 L45.84 104.56 L45.85 105.24 L45.85 105.93 L45.85 106.61 L45.85 107.29 L45.86 107.98 L45.86 108.66 L45.86 109.34 L45.86 110.03 L45.87 110.71 L45.87 111.39 L45.87 112.08 L45.87 112.76 L45.88 113.44 L45.88 114.13 L45.88 114.81 L45.88 115.49 L45.89 116.18 L45.89 116.86 L45.89 117.54 L45.89 118.23 L45.9 118.91 L45.9 119.59 L45.9 120.28 L45.9 120.96 L45.91 121.64 L45.91 122.33 L45.91 123.01 L45.91 123.69 L45.92 124.38 L45.92 125.06 L45.92 125.74 L45.92 126.43 L45.93 127.11 L45.93 127.79 L45.93 128.48 L45.93 129.16 L45.94 129.84 L45.94 130.53 L45.94 131.21 L45.95 131.89 L45.95 132.58 L45.95 133.26 L45.95 133.94 L45.96 134.63 L45.96 135.31 L45.96 136 L45.96 136.68 L45.97 137.36 L45.97 138.05 L45.97 138.73 L45.97 139.41 L45.98 140.1 L45.98 140.78 L45.98 141.46 L45.98 142.15 L45.99 142.83 L45.99 143.51 L45.99 144.2 L46 144.88 L46 145.56 L46 146.25 L46 146.93 L46.01 147.61 L46.01 148.3 L46.01 148.98 L46.02 149.66 L46.02 150.35 L46.02 151.03 L46.02 151.71 L46.03 152.4 L46.03 153.08 L46.03 153.76 L46.04 154.45 L46.04 155.13 L46.04 155.81 L46.04 156.5 L46.05 157.18 L46.05 157.86 L46.05 158.55 L46.06 159.23 L46.06 159.91 L46.06 160.6 L46.06 161.28 L46.07 161.96 L46.07 162.65 L46.07 163.33 L46.08 164.01 L46.08 164.7 L46.08 165.38 L46.09 166.06 L46.09 166.75 L46.09 167.43 L46.1 168.11 L46.1 168.8 L46.1 169.48 L46.11 170.17 L46.11 170.85 L46.11 171.53 L46.11 172.22 L46.12 172.9 L46.12 173.58 L46.12 174.27 L46.13 174.95 L46.13 175.63 L46.13 176.32 L46.14 177 L46.14 177.68 L46.14 178.37 L46.15 179.05 L46.15 179.73 L46.16 180.42 L46.16 181.1 L46.16 181.78 L46.17 182.47 L46.17 183.15 L46.17 183.83 L46.18 184.52 L46.18 185.2 L46.18 185.88 L46.19 186.57 L46.19 187.25 L46.2 187.93 L46.2 188.62 L46.2 189.3 L46.21 189.98 L46.21 190.67 L46.21 191.35 L46.22 192.03 L46.22 192.72 L46.23 193.4 L46.23 194.08 L46.23 194.77 L46.24 195.45 L46.24 196.13 L46.25 196.82 L46.25 197.5 L46.25 198.18 L46.26 198.87 L46.26 199.55 L46.27 200.23 L46.27 200.92 L46.27 201.6 L46.28 202.28 L46.28 202.97 L46.29 203.65 L46.29 204.33 L46.3 205.02 L46.3 205.7 L46.31 206.39 L46.31 207.07 L46.31 207.75 L46.32 208.44 L46.32 209.12 L46.33 209.8 L46.33 210.49 L46.34 211.17 L46.34 211.85 L46.35 212.54 L46.35 213.22 L46.36 213.9 L46.36 214.59 L46.37 215.27 L46.37 215.95 L46.38 216.64 L46.38 217.32 L46.39 218 L46.39 218.69 L46.4 219.37 L46.4 220.05 L46.41 220.74 L46.41 221.42 L46.42 222.1 L46.42 222.79 L46.43 223.47 L46.43 224.15 L46.44 224.84 L46.44 225.52 L46.45 226.2 L46.46 226.89 L46.46 227.57 L46.47 228.25 L46.47 228.94 L46.48 229.62 L46.49 230.3 L46.49 230.99 L46.5 231.67 L46.51 232.35 L46.51 233.04 L46.52 233.72 L46.53 234.4 L46.53 235.09 L46.54 235.77 L46.55 236.45 L46.55 237.14 L46.56 237.82 L46.57 238.5 L46.58 239.19 L46.59 239.87 L46.59 240.55 L46.6 241.24 L46.61 241.92 L46.62 242.6 L46.63 243.29 L46.64 243.97 L46.65 244.65 L46.65 245.34 L46.66 246.02 L46.67 246.7 L46.68 247.39 L46.69 248.07 L46.7 248.75 L46.71 249.44 L46.72 250.12 L46.73 250.8 L46.74 251.49 L46.75 252.17 L46.76 252.85 L46.78 253.54 L46.79 254.22 L46.8 254.9 L46.81 255.59 L46.82 256.28 L46.83 256.97 L46.84 257.67 L46.85 258.36 L46.86 259.06 L46.87 259.75 L46.89 260.44 L46.91 261.12 L46.93 261.79 L46.96 262.45 L46.99 263.11 L47.12 263.78 L47.41 264.46" stroke="#ff0000" stroke-width="2.2" stroke-dasharray="8 7.85" stroke-dashoffset="9.65"/><path d="M47.41 264.46 L47.77 265.04 L48.15 265.47 L48.58 265.85 L49.07 266.2 L49.61 266.53 L50.2 266.84 L50.83 267.12 L51.49 267.39 L52.17 267.64 L52.86 267.89 L53.57 268.13 L54.28 268.36 L54.99 268.59 L55.69 268.83 L56.37 269.07 L57.02 269.33 L57.2 269.4 M63.9 272 L64.03 272.04 L64.68 272.26 L65.32 272.48 L65.97 272.69 L66.63 272.9 L67.28 273.1 L67.93 273.3 L68.59 273.5 L69.24 273.69 L69.9 273.88 L70.56 274.07 L71.21 274.26 L71.7 274.4 M78.9 276.3 L79.14 276.37 L79.8 276.55 L80.45 276.74 L81.11 276.93 L81.77 277.12 L82.42 277.31 L83.08 277.5 L83.74 277.69 L84.4 277.87 L85.05 278.05 L85.71 278.23 L85.9 278.28 M92.8 280 L93.01 280.05 L93.68 280.19 L94.34 280.34 L95.01 280.48 L95.68 280.61 L96.35 280.75 L97.02 280.88 L97.69 281.02 L98.36 281.15 L99.03 281.28 L99.7 281.42 L100.37 281.55 L100.6 281.6 M107.8 283.1 L108.4 283.21 L109.08 283.33 L109.75 283.44 L110.43 283.55 L111.1 283.65 L111.78 283.76 L112.45 283.87 L113.13 283.98 L113.8 284.09 L114.48 284.2 L115.15 284.33 L115.2 284.34 M122.2 285.8 L122.51 285.85 L123.18 285.96 L123.86 286.07 L124.53 286.17 L125.21 286.27 L125.89 286.36 L126.56 286.46 L127.24 286.55 L127.92 286.64 L128.6 286.73 L129.27 286.83 L129.8 286.9 M137.2 287.9 L137.4 287.93 L138.07 288.03 L138.75 288.14 L139.42 288.25 L140.1 288.37 L140.77 288.48 L141.44 288.6 L142.12 288.71 L142.79 288.83 L143.46 288.95 L144.14 289.06 L144.81 289.17 L145 289.2 M148.9 289.84 L149.54 289.94 L150.21 290.05 L150.89 290.16 L151.56 290.27 L152.24 290.38 L152.91 290.48 L153.59 290.58 L154.26 290.68 L154.94 290.77 L155.62 290.86 L156.29 290.95 L156.7 291 M163.9 291.72 L164.45 291.78 L165.13 291.86 L165.81 291.94 L166.49 292.04 L167.16 292.14 L167.84 292.25 L168.51 292.36 L169.19 292.48 L169.86 292.59 L170.54 292.69 L171.21 292.79 L171.3 292.8 M178.6 293.69 L178.67 293.7 L179.35 293.77 L180.03 293.85 L180.71 293.92 L181.39 293.99 L182.07 294.07 L182.75 294.14 L183.43 294.21 L184.11 294.28 L184.79 294.35 L185.47 294.42 L186.15 294.49 L186.83 294.56 L187 294.58 M193.5 295.23 L193.63 295.24 L194.31 295.3 L194.99 295.37 L195.67 295.43 L196.35 295.49 L197.03 295.56 L197.71 295.62 L198.39 295.68 L199.07 295.75 L199.75 295.81 L200.43 295.87 L201.11 295.93 L201.8 295.99 L202.3 296.04 M209 296.65 L209.28 296.67 L209.96 296.73 L210.64 296.8 L211.32 296.86 L212.01 296.92 L212.69 296.98 L213.37 297.05 L214.05 297.11 L214.73 297.17 L215.41 297.24 L216.09 297.3 L216.77 297.37 L217.45 297.44 L218.13 297.51 L218.7 297.56 M224.6 298.13 L224.93 298.15 L225.61 298.21 L226.29 298.26 L226.97 298.32 L227.66 298.37 L228.34 298.42 L229.02 298.48 L229.7 298.53 L230.38 298.58 L231.06 298.63 L231.74 298.68 L232.42 298.73 L233 298.77 M240.3 299.29 L240.6 299.31 L241.29 299.36 L241.97 299.4 L242.65 299.45 L243.33 299.49 L244.01 299.54 L244.69 299.58 L245.38 299.63 L246.06 299.67 L246.74 299.71 L247.42 299.76 L248.11 299.8 L248.79 299.84 L249.47 299.89 L250.15 299.93 L250.83 299.97 L251.52 300.02 L252.2 300.06 L252.88 300.1 L253.56 300.14 L254.24 300.18 L254.93 300.22 L255.61 300.27 L255.7 300.27 M262.1 300.65 L262.43 300.67 L263.11 300.71 L263.8 300.75 L264.48 300.79 L265.16 300.83 L265.84 300.87 L266.53 300.91 L267.21 300.95 L267.89 300.99 L268.57 301.03 L269.26 301.06 L269.94 301.1 L270.62 301.14 L270.8 301.15 M278.4 301.59 L278.81 301.61 L279.49 301.65 L280.17 301.69 L280.86 301.73 L281.54 301.77 L282.22 301.81 L282.9 301.85 L283.59 301.89 L284.27 301.93 L284.95 301.97 L285.63 302.01 L286.31 302.05 L287 302.09 L287.2 302.1 M293.3 302.45 L293.82 302.48 L294.5 302.52 L295.18 302.56 L295.87 302.6 L296.55 302.64 L297.23 302.68 L297.91 302.72 L298.59 302.76 L299.28 302.8 L299.96 302.83 L300.64 302.87 L301.32 302.91 L302.01 302.95 L302.2 302.96 M309.4 303.36 L309.51 303.37 L310.19 303.41 L310.88 303.45 L311.56 303.48 L312.24 303.52 L312.92 303.56 L313.61 303.6 L314.29 303.63 L314.97 303.67 L315.65 303.71 L316.34 303.75 L317.02 303.78 L317.7 303.82 L317.8 303.83 M325 304.21 L325.21 304.22 L325.89 304.26 L326.57 304.3 L327.25 304.33 L327.94 304.37 L328.62 304.41 L329.3 304.44 L329.98 304.48 L330.67 304.51 L331.35 304.55 L332.03 304.58 L332.71 304.62 L332.8 304.63 M340 305 L340.22 305.01 L340.9 305.04 L341.59 305.08 L342.27 305.11 L342.95 305.15 L343.63 305.18 L344.32 305.22 L345 305.25 L345.5 305.25" stroke="#ff0000" stroke-width="2.2"/>
</g>
<rect x="415.7" y="20.4" width="300.6" height="292.5" fill="none" stroke="#1a1a1a" stroke-width="1"/><path d="M475.55 312.9v-3.5M475.55 20.4v3.5M535.5 312.9v-3.5M535.5 20.4v3.5M595.45 312.9v-3.5M595.45 20.4v3.5M655.4 312.9v-3.5M655.4 20.4v3.5M415.7 270.71h3.5M716.3 270.71h-3.5M415.7 228.93h3.5M716.3 228.93h-3.5M415.7 187.14h3.5M716.3 187.14h-3.5M415.7 145.36h3.5M716.3 145.36h-3.5M415.7 103.57h3.5M716.3 103.57h-3.5M415.7 61.79h3.5M716.3 61.79h-3.5" stroke="#1a1a1a" stroke-width="1" fill="none"/>
<g clip-path="url(#cr)" fill="none" stroke-linejoin="round">
<path d="M415.7 312.46 L415.89 312.47 L416.08 312.13 L416.26 311.21 L416.45 309.5 L416.64 307.19 L416.83 304.8 L417.02 302.88 L417.2 301.14 L417.39 299.52 L417.58 297.97 L417.77 296.44 L417.96 294.84 L418.14 293.07 L418.33 291.3 L418.52 289.57 L418.71 287.79 L418.9 285.9 L419.08 283.79 L419.27 281.34 L419.46 278.34 L419.65 274.59 L419.84 270.22 L420.02 265.41 L420.21 260.36 L420.4 255.32 L420.59 250.57 L420.78 246.36 L420.96 242.32 L421.15 238.34 L421.34 234.44 L421.53 230.61 L421.72 226.86 L421.9 223.18 L422.09 219.58 L422.28 216.04 L422.47 212.58 L422.66 209.17 L422.84 205.82 L423.03 202.53 L423.22 199.29 L423.41 196.12 L423.6 193.14 L423.78 190.33 L423.97 187.62 L424.16 184.98 L424.35 182.35 L424.54 179.68 L424.72 176.92 L424.91 174.02 L425.1 170.94 L425.29 167.72 L425.48 164.43 L425.66 161.09 L425.85 157.7 L426.04 154.26 L426.23 150.79 L426.42 147.29 L426.6 143.77 L426.79 140.23 L426.98 136.68 L427.17 133.13 L427.36 129.58 L427.54 126.05 L427.73 122.53 L427.92 119.05 L428.11 115.59 L428.3 112.18 L428.48 108.82 L428.67 105.51 L428.86 102.26 L429.05 99.08 L429.24 95.98 L429.42 92.95 L429.61 90.01 L429.8 87.16 L429.99 84.4 L430.18 81.75 L430.36 79.2 L430.55 76.76 L430.74 74.43 L430.93 72.22 L431.12 70.12 L431.3 68.15 L431.49 66.3 L431.68 64.57 L431.87 62.97 L432.06 61.49 L432.24 60.14 L432.43 58.92 L432.62 57.83 L432.81 56.87 L433 56.03 L433.18 55.31 L433.37 54.72 L433.56 54.24 L433.75 53.89 L433.94 53.65 L434.12 53.52 L434.31 53.51 L434.5 53.6 L434.69 53.79 L434.88 54.09 L435.06 54.48 L435.25 54.98 L435.44 55.59 L435.63 56.29 L435.82 57.09 L436 57.98 L436.19 58.98 L436.38 60.07 L436.57 61.26 L436.76 62.54 L436.94 63.91 L437.13 65.38 L437.32 66.94 L437.51 68.58 L437.7 70.32 L437.88 72.14 L438.07 74.05 L438.26 76.04 L438.45 78.11 L438.64 80.26 L438.82 82.5 L439.01 84.81 L439.2 87.19 L439.39 89.65 L439.58 92.18 L439.76 94.78 L439.95 97.44 L440.14 100.18 L440.33 102.97 L440.52 105.83 L440.7 108.74 L440.89 111.71 L441.08 114.73 L441.27 117.81 L441.45 120.93 L441.64 124.09 L441.83 127.3 L442.02 130.55 L442.21 133.83 L442.39 137.15 L442.58 140.5 L442.77 143.87 L442.96 147.27 L443.15 150.69 L443.33 154.12 L443.52 157.57 L443.71 161.03 L443.9 164.5 L444.09 167.96 L444.27 171.43 L444.46 174.9 L444.65 178.35 L444.84 181.79 L445.03 185.22 L445.21 188.63 L445.4 192.02 L445.59 195.38 L445.78 198.71 L445.97 202 L446.15 205.26 L446.34 208.48 L446.53 211.65 L446.72 214.77 L446.91 217.84 L447.09 220.85 L447.28 223.8 L447.47 226.69 L447.66 229.51 L447.85 232.27 L448.03 234.95 L448.22 237.55 L448.41 240.07 L448.6 242.51 L448.79 244.87 L448.97 247.13 L449.16 249.31 L449.35 251.39 L449.54 253.37 L449.73 255.26 L449.91 257.05 L450.1 258.73 L450.29 260.31 L450.48 261.78 L450.67 263.14 L450.85 264.39 L451.04 265.53 L451.23 266.55 L451.42 267.46 L451.61 268.26 L451.79 268.94 L451.98 269.51 L452.17 269.96 L452.36 270.29 L452.55 270.5 L452.73 270.59 L452.92 270.57 L453.11 270.43 L453.3 270.18 L453.49 269.81 L453.67 269.32 L453.86 268.72 L454.05 268.01 L454.24 267.19 L454.43 266.26 L454.61 265.22 L454.8 264.08 L454.99 262.83 L455.18 261.48 L455.37 260.03 L455.55 258.48 L455.74 256.84 L455.93 255.11 L456.12 253.29 L456.31 251.38 L456.49 249.39 L456.68 247.32 L456.87 245.17 L457.06 242.94 L457.25 240.64 L457.43 238.28 L457.62 235.85 L457.81 233.36 L458 230.81 L458.19 228.2 L458.37 225.55 L458.56 222.84 L458.75 220.09 L458.94 217.3 L459.13 214.47 L459.31 211.61 L459.5 208.71 L459.69 205.79 L459.88 202.85 L460.07 199.88 L460.25 196.9 L460.44 193.9 L460.63 190.89 L460.82 187.88 L461.01 184.86 L461.19 181.84 L461.38 178.83 L461.57 175.82 L461.76 172.81 L461.95 169.82 L462.13 166.85 L462.32 163.89 L462.51 160.95 L462.7 158.04 L462.89 155.15 L463.07 152.29 L463.26 149.46 L463.45 146.66 L463.64 143.9 L463.83 141.17 L464.01 138.49 L464.2 135.85 L464.39 133.25 L464.58 130.7 L464.77 128.19 L464.95 125.74 L465.14 123.34 L465.33 120.99 L465.52 118.69 L465.71 116.46 L465.89 114.27 L466.08 112.15 L466.27 110.09 L466.46 108.09 L466.65 106.15 L466.83 104.27 L467.02 102.46 L467.21 100.72 L467.4 99.04 L467.59 97.42 L467.77 95.88 L467.96 94.4 L468.15 92.99 L468.34 91.65 L468.53 90.38 L468.71 89.19 L468.9 88.06 L469.09 87 L469.28 86.01 L469.47 85.1 L469.65 84.26 L469.84 83.48 L470.03 82.79 L470.22 82.16 L470.41 81.61 L470.59 81.12 L470.78 80.71 L470.97 80.38 L471.16 80.11 L471.35 79.92 L471.53 79.8 L471.72 79.75 L471.91 79.77 L472.1 79.87 L472.29 80.04 L472.47 80.28 L472.66 80.59 L472.85 80.97 L473.04 81.42 L473.23 81.95 L473.41 82.54 L473.6 83.21 L473.79 83.95 L473.98 84.75 L474.17 85.63 L474.35 86.57 L474.54 87.58 L474.73 88.66 L474.92 89.8 L475.11 91.01 L475.29 92.28 L475.48 93.62 L475.67 95.02 L475.86 96.48 L476.05 98.01 L476.23 99.59 L476.42 101.23 L476.61 102.93 L476.8 104.69 L476.99 106.5 L477.17 108.36 L477.36 110.28 L477.55 112.24 L477.74 114.26 L477.93 116.32 L478.11 118.43 L478.3 120.58 L478.49 122.77 L478.68 125.01 L478.87 127.28 L479.05 129.58 L479.24 131.92 L479.43 134.29 L479.62 136.69 L479.81 139.11 L479.99 141.56 L480.18 144.03 L480.37 146.52 L480.56 149.03 L480.75 151.55 L480.93 154.08 L481.12 156.61 L481.31 159.16 L481.5 161.7 L481.69 164.25 L481.87 166.79 L482.06 169.33 L482.25 171.85 L482.44 174.37 L482.63 176.87 L482.81 179.35 L483 181.81 L483.19 184.25 L483.38 186.66 L483.57 189.04 L483.75 191.38 L483.94 193.7 L484.13 195.97 L484.32 198.2 L484.51 200.38 L484.69 202.52 L484.88 204.61 L485.07 206.65 L485.26 208.63 L485.45 210.56 L485.63 212.42 L485.82 214.23 L486.01 215.96 L486.2 217.64 L486.39 219.24 L486.57 220.77 L486.76 222.23 L486.95 223.62 L487.14 224.93 L487.33 226.16 L487.51 227.31 L487.7 228.39 L487.89 229.38 L488.08 230.29 L488.27 231.12 L488.45 231.86 L488.64 232.52 L488.83 233.1 L489.02 233.59 L489.21 233.99 L489.39 234.31 L489.58 234.54 L489.77 234.69 L489.96 234.75 L490.15 234.72 L490.33 234.62 L490.52 234.42 L490.71 234.15 L490.9 233.79 L491.08 233.35 L491.27 232.84 L491.46 232.24 L491.65 231.56 L491.84 230.81 L492.02 229.99 L492.21 229.09 L492.4 228.11 L492.59 227.07 L492.78 225.96 L492.96 224.78 L493.15 223.54 L493.34 222.24 L493.53 220.87 L493.72 219.44 L493.9 217.96 L494.09 216.42 L494.28 214.83 L494.47 213.19 L494.66 211.5 L494.84 209.77 L495.03 207.99 L495.22 206.17 L495.41 204.31 L495.6 202.41 L495.78 200.48 L495.97 198.52 L496.16 196.53 L496.35 194.51 L496.54 192.47 L496.72 190.4 L496.91 188.31 L497.1 186.21 L497.29 184.09 L497.48 181.96 L497.66 179.81 L497.85 177.66 L498.04 175.5 L498.23 173.34 L498.42 171.17 L498.6 169.01 L498.79 166.84 L498.98 164.68 L499.17 162.53 L499.36 160.39 L499.54 158.26 L499.73 156.13 L499.92 154.03 L500.11 151.93 L500.3 149.86 L500.48 147.81 L500.67 145.77 L500.86 143.76 L501.05 141.77 L501.24 139.81 L501.42 137.88 L501.61 135.97 L501.8 134.1 L501.99 132.25 L502.18 130.44 L502.36 128.66 L502.55 126.92 L502.74 125.21 L502.93 123.54 L503.12 121.91 L503.3 120.31 L503.49 118.76 L503.68 117.25 L503.87 115.77 L504.06 114.35 L504.24 112.96 L504.43 111.62 L504.62 110.32 L504.81 109.07 L505 107.86 L505.18 106.7 L505.37 105.58 L505.56 104.52 L505.75 103.5 L505.94 102.53 L506.12 101.6 L506.31 100.73 L506.5 99.9 L506.69 99.13 L506.88 98.4 L507.06 97.72 L507.25 97.09 L507.44 96.52 L507.63 95.99 L507.82 95.51 L508 95.09 L508.19 94.71 L508.38 94.39 L508.57 94.11 L508.76 93.89 L508.94 93.71 L509.13 93.59 L509.32 93.52 L509.51 93.5 L509.7 93.53 L509.88 93.61 L510.07 93.74 L510.26 93.92 L510.45 94.16 L510.64 94.44 L510.82 94.77 L511.01 95.15 L511.2 95.58 L511.39 96.06 L511.58 96.59 L511.76 97.17 L511.95 97.79 L512.14 98.47 L512.33 99.18 L512.52 99.95 L512.7 100.76 L512.89 101.62 L513.08 102.52 L513.27 103.47 L513.46 104.46 L513.64 105.5 L513.83 106.57 L514.02 107.69 L514.21 108.85 L514.4 110.05 L514.58 111.29 L514.77 112.56 L514.96 113.88 L515.15 115.23 L515.34 116.61 L515.52 118.03 L515.71 119.48 L515.9 120.97 L516.09 122.48 L516.28 124.02 L516.46 125.59 L516.65 127.19 L516.84 128.81 L517.03 130.46 L517.22 132.13 L517.4 133.82 L517.59 135.53 L517.78 137.25 L517.97 139 L518.16 140.75 L518.34 142.52 L518.53 144.3 L518.72 146.08 L518.91 147.88 L519.1 149.68 L519.28 151.48 L519.47 153.28 L519.66 155.09 L519.85 156.89 L520.04 158.68 L520.22 160.47 L520.41 162.25 L520.6 164.02 L520.79 165.77 L520.98 167.51 L521.16 169.23 L521.35 170.94 L521.54 172.62 L521.73 174.28 L521.92 175.92 L522.1 177.53 L522.29 179.11 L522.48 180.66 L522.67 182.17 L522.86 183.65 L523.04 185.1 L523.23 186.5 L523.42 187.87 L523.61 189.2 L523.8 190.48 L523.98 191.71 L524.17 192.9 L524.36 194.05 L524.55 195.14 L524.74 196.18 L524.92 197.17 L525.11 198.11 L525.3 198.99 L525.49 199.82 L525.68 200.59 L525.86 201.31 L526.05 201.97 L526.24 202.57 L526.43 203.1 L526.62 203.58 L526.8 204 L526.99 204.36 L527.18 204.66 L527.37 204.9 L527.56 205.08 L527.74 205.19 L527.93 205.25 L528.12 205.24 L528.31 205.17 L528.5 205.04 L528.68 204.86 L528.87 204.61 L529.06 204.31 L529.25 203.94 L529.44 203.52 L529.62 203.05 L529.81 202.51 L530 201.93 L530.19 201.29 L530.38 200.59 L530.56 199.85 L530.75 199.05 L530.94 198.21 L531.13 197.32 L531.32 196.38 L531.5 195.39 L531.69 194.37 L531.88 193.3 L532.07 192.19 L532.26 191.04 L532.44 189.85 L532.63 188.63 L532.82 187.37 L533.01 186.08 L533.2 184.76 L533.38 183.41 L533.57 182.03 L533.76 180.63 L533.95 179.2 L534.14 177.75 L534.32 176.28 L534.51 174.79 L534.7 173.28 L534.89 171.76 L535.08 170.22 L535.26 168.67 L535.45 167.11 L535.64 165.54 L535.83 163.97 L536.02 162.38 L536.2 160.8 L536.39 159.21 L536.58 157.62 L536.77 156.03 L536.96 154.45 L537.14 152.87 L537.33 151.29 L537.52 149.72 L537.71 148.16 L537.9 146.61 L538.08 145.07 L538.27 143.54 L538.46 142.03 L538.65 140.53 L538.84 139.05 L539.02 137.58 L539.21 136.13 L539.4 134.7 L539.59 133.3 L539.78 131.91 L539.96 130.55 L540.15 129.21 L540.34 127.9 L540.53 126.61 L540.72 125.34 L540.9 124.11 L541.09 122.9 L541.28 121.72 L541.47 120.57 L541.65 119.45 L541.84 118.36 L542.03 117.3 L542.22 116.27 L542.41 115.28 L542.59 114.32 L542.78 113.39 L542.97 112.49 L543.16 111.63 L543.35 110.8 L543.53 110.01 L543.72 109.25 L543.91 108.53 L544.1 107.84 L544.29 107.19 L544.47 106.58 L544.66 106 L544.85 105.45 L545.04 104.95 L545.23 104.48 L545.41 104.05 L545.6 103.65 L545.79 103.29 L545.98 102.97 L546.17 102.69 L546.35 102.44 L546.54 102.24 L546.73 102.06 L546.92 101.93 L547.11 101.83 L547.29 101.77 L547.48 101.75 L547.67 101.77 L547.86 101.82 L548.05 101.91 L548.23 102.03 L548.42 102.2 L548.61 102.4 L548.8 102.64 L548.99 102.91 L549.17 103.22 L549.36 103.57 L549.55 103.96 L549.74 104.38 L549.93 104.83 L550.11 105.33 L550.3 105.85 L550.49 106.42 L550.68 107.01 L550.87 107.64 L551.05 108.31 L551.24 109 L551.43 109.73 L551.62 110.5 L551.81 111.29 L551.99 112.11 L552.18 112.97 L552.37 113.86 L552.56 114.77 L552.75 115.71 L552.93 116.68 L553.12 117.68 L553.31 118.7 L553.5 119.75 L553.69 120.83 L553.87 121.92 L554.06 123.04 L554.25 124.18 L554.44 125.34 L554.63 126.52 L554.81 127.72 L555 128.93 L555.19 130.16 L555.38 131.41 L555.57 132.66 L555.75 133.93 L555.94 135.22 L556.13 136.51 L556.32 137.8 L556.51 139.11 L556.69 140.42 L556.88 141.73 L557.07 143.04 L557.26 144.36 L557.45 145.67 L557.63 146.98 L557.82 148.29 L558.01 149.59 L558.2 150.89 L558.39 152.17 L558.57 153.45 L558.76 154.71 L558.95 155.96 L559.14 157.19 L559.33 158.41 L559.51 159.61 L559.7 160.79 L559.89 161.94 L560.08 163.08 L560.27 164.19 L560.45 165.27 L560.64 166.33 L560.83 167.36 L561.02 168.36 L561.21 169.33 L561.39 170.26 L561.58 171.16 L561.77 172.03 L561.96 172.86 L562.15 173.65 L562.33 174.41 L562.52 175.12 L562.71 175.8 L562.9 176.44 L563.09 177.03 L563.27 177.58 L563.46 178.09 L563.65 178.56 L563.84 178.98 L564.03 179.36 L564.21 179.69 L564.4 179.98 L564.59 180.22 L564.78 180.42 L564.97 180.57 L565.15 180.67 L565.34 180.73 L565.53 180.75 L565.72 180.72 L565.91 180.65 L566.09 180.53 L566.28 180.36 L566.47 180.16 L566.66 179.91 L566.85 179.62 L567.03 179.28 L567.22 178.9 L567.41 178.49 L567.6 178.03 L567.79 177.54 L567.97 177 L568.16 176.43 L568.35 175.82 L568.54 175.18 L568.73 174.5 L568.91 173.79 L569.1 173.04 L569.29 172.26 L569.48 171.46 L569.67 170.62 L569.85 169.75 L570.04 168.86 L570.23 167.94 L570.42 167 L570.61 166.04 L570.79 165.05 L570.98 164.04 L571.17 163.01 L571.36 161.96 L571.55 160.9 L571.73 159.82 L571.92 158.73 L572.11 157.62 L572.3 156.5 L572.49 155.37 L572.67 154.23 L572.86 153.08 L573.05 151.92 L573.24 150.76 L573.43 149.6 L573.61 148.43 L573.8 147.26 L573.99 146.08 L574.18 144.91 L574.37 143.74 L574.55 142.57 L574.74 141.41 L574.93 140.25 L575.12 139.09 L575.31 137.95 L575.49 136.81 L575.68 135.67 L575.87 134.55 L576.06 133.44 L576.25 132.34 L576.43 131.25 L576.62 130.18 L576.81 129.12 L577 128.07 L577.19 127.04 L577.37 126.03 L577.56 125.03 L577.75 124.06 L577.94 123.09 L578.13 122.15 L578.31 121.23 L578.5 120.33 L578.69 119.45 L578.88 118.59 L579.07 117.75 L579.25 116.93 L579.44 116.14 L579.63 115.37 L579.82 114.62 L580.01 113.9 L580.19 113.2 L580.38 112.53 L580.57 111.88 L580.76 111.25 L580.95 110.66 L581.13 110.08 L581.32 109.53 L581.51 109.01 L581.7 108.52 L581.89 108.05 L582.07 107.61 L582.26 107.19 L582.45 106.81 L582.64 106.45 L582.83 106.11 L583.01 105.8 L583.2 105.53 L583.39 105.27 L583.58 105.05 L583.77 104.85 L583.95 104.68 L584.14 104.54 L584.33 104.43 L584.52 104.34 L584.71 104.29 L584.89 104.26 L585.08 104.25 L585.27 104.28 L585.46 104.33 L585.65 104.41 L585.83 104.52 L586.02 104.65 L586.21 104.81 L586.4 105 L586.59 105.22 L586.77 105.46 L586.96 105.73 L587.15 106.03 L587.34 106.35 L587.53 106.7 L587.71 107.08 L587.9 107.48 L588.09 107.91 L588.28 108.36 L588.47 108.84 L588.65 109.34 L588.84 109.86 L589.03 110.41 L589.22 110.99 L589.41 111.58 L589.59 112.2 L589.78 112.84 L589.97 113.51 L590.16 114.19 L590.35 114.89 L590.53 115.62 L590.72 116.36 L590.91 117.12 L591.1 117.91 L591.28 118.7 L591.47 119.52 L591.66 120.35 L591.85 121.2 L592.04 122.06 L592.22 122.93 L592.41 123.82 L592.6 124.72 L592.79 125.63 L592.98 126.55 L593.16 127.47 L593.35 128.41 L593.54 129.36 L593.73 130.31 L593.92 131.26 L594.1 132.22 L594.29 133.18 L594.48 134.15 L594.67 135.11 L594.86 136.08 L595.04 137.04 L595.23 138 L595.42 138.96 L595.61 139.91 L595.8 140.86 L595.98 141.8 L596.17 142.73 L596.36 143.65 L596.55 144.56 L596.74 145.46 L596.92 146.35 L597.11 147.22 L597.3 148.08 L597.49 148.92 L597.68 149.74 L597.86 150.54 L598.05 151.33 L598.24 152.09 L598.43 152.84 L598.62 153.56 L598.8 154.25 L598.99 154.92 L599.18 155.57 L599.37 156.19 L599.56 156.79 L599.74 157.35 L599.93 157.89 L600.12 158.4 L600.31 158.88 L600.5 159.33 L600.68 159.75 L600.87 160.14 L601.06 160.49 L601.25 160.82 L601.44 161.11 L601.62 161.37 L601.81 161.59 L602 161.79 L602.19 161.94 L602.38 162.07 L602.56 162.16 L602.75 162.22 L602.94 162.25 L603.13 162.24 L603.32 162.2 L603.5 162.13 L603.69 162.02 L603.88 161.88 L604.07 161.71 L604.26 161.51 L604.44 161.28 L604.63 161.02 L604.82 160.72 L605.01 160.4 L605.2 160.05 L605.38 159.67 L605.57 159.26 L605.76 158.83 L605.95 158.37 L606.14 157.88 L606.32 157.37 L606.51 156.83 L606.7 156.27 L606.89 155.69 L607.08 155.08 L607.26 154.46 L607.45 153.81 L607.64 153.15 L607.83 152.47 L608.02 151.77 L608.2 151.05 L608.39 150.32 L608.58 149.57 L608.77 148.81 L608.96 148.03 L609.14 147.25 L609.33 146.45 L609.52 145.64 L609.71 144.82 L609.9 144 L610.08 143.17 L610.27 142.33 L610.46 141.48 L610.65 140.63 L610.84 139.78 L611.02 138.92 L611.21 138.07 L611.4 137.21 L611.59 136.35 L611.78 135.49 L611.96 134.63 L612.15 133.77 L612.34 132.92 L612.53 132.07 L612.72 131.22 L612.9 130.38 L613.09 129.54 L613.28 128.71 L613.47 127.89 L613.66 127.08 L613.84 126.27 L614.03 125.48 L614.22 124.69 L614.41 123.91 L614.6 123.15 L614.78 122.39 L614.97 121.65 L615.16 120.92 L615.35 120.2 L615.54 119.5 L615.72 118.8 L615.91 118.13 L616.1 117.47 L616.29 116.82 L616.48 116.19 L616.66 115.57 L616.85 114.97 L617.04 114.39 L617.23 113.82 L617.42 113.27 L617.6 112.73 L617.79 112.22 L617.98 111.72 L618.17 111.24 L618.36 110.77 L618.54 110.33 L618.73 109.9 L618.92 109.5 L619.11 109.11 L619.3 108.74 L619.48 108.39 L619.67 108.05 L619.86 107.74 L620.05 107.45 L620.24 107.17 L620.42 106.92 L620.61 106.68 L620.8 106.47 L620.99 106.27 L621.18 106.1 L621.36 105.94 L621.55 105.8 L621.74 105.69 L621.93 105.59 L622.12 105.51 L622.3 105.46 L622.49 105.42 L622.68 105.4 L622.87 105.4 L623.06 105.43 L623.24 105.47 L623.43 105.53 L623.62 105.61 L623.81 105.71 L624 105.84 L624.18 105.98 L624.37 106.14 L624.56 106.32 L624.75 106.52 L624.94 106.74 L625.12 106.97 L625.31 107.23 L625.5 107.51 L625.69 107.8 L625.88 108.11 L626.06 108.44 L626.25 108.79 L626.44 109.16 L626.63 109.54 L626.82 109.94 L627 110.36 L627.19 110.8 L627.38 111.25 L627.57 111.71 L627.76 112.2 L627.94 112.69 L628.13 113.2 L628.32 113.73 L628.51 114.27 L628.7 114.82 L628.88 115.39 L629.07 115.97 L629.26 116.56 L629.45 117.16 L629.64 117.77 L629.82 118.39 L630.01 119.02 L630.2 119.66 L630.39 120.3 L630.58 120.96 L630.76 121.62 L630.95 122.29 L631.14 122.96 L631.33 123.64 L631.52 124.32 L631.7 125 L631.89 125.68 L632.08 126.37 L632.27 127.06 L632.46 127.74 L632.64 128.43 L632.83 129.11 L633.02 129.79 L633.21 130.47 L633.4 131.14 L633.58 131.81 L633.77 132.47 L633.96 133.12 L634.15 133.76 L634.34 134.4 L634.52 135.03 L634.71 135.64 L634.9 136.25 L635.09 136.84 L635.28 137.42 L635.46 137.98 L635.65 138.54 L635.84 139.07 L636.03 139.59 L636.22 140.1 L636.4 140.58 L636.59 141.05 L636.78 141.5 L636.97 141.93 L637.16 142.34 L637.34 142.74 L637.53 143.11 L637.72 143.46 L637.91 143.79 L638.1 144.09 L638.28 144.38 L638.47 144.64 L638.66 144.88 L638.85 145.1 L639.04 145.29 L639.22 145.46 L639.41 145.61 L639.6 145.73 L639.79 145.83 L639.98 145.91 L640.16 145.96 L640.35 145.99 L640.54 146 L640.73 145.98 L640.92 145.94 L641.1 145.88 L641.29 145.79 L641.48 145.69 L641.67 145.56 L641.85 145.4 L642.04 145.23 L642.23 145.03 L642.42 144.82 L642.61 144.58 L642.79 144.32 L642.98 144.04 L643.17 143.75 L643.36 143.43 L643.55 143.1 L643.73 142.75 L643.92 142.38 L644.11 141.99 L644.3 141.59 L644.49 141.17 L644.67 140.74 L644.86 140.29 L645.05 139.83 L645.24 139.35 L645.43 138.86 L645.61 138.36 L645.8 137.85 L645.99 137.33 L646.18 136.8 L646.37 136.25 L646.55 135.7 L646.74 135.14 L646.93 134.57 L647.12 134 L647.31 133.42 L647.49 132.83 L647.68 132.24 L647.87 131.65 L648.06 131.05 L648.25 130.44 L648.43 129.84 L648.62 129.23 L648.81 128.62 L649 128.01 L649.19 127.4 L649.37 126.8 L649.56 126.19 L649.75 125.58 L649.94 124.98 L650.13 124.38 L650.31 123.78 L650.5 123.18 L650.69 122.59 L650.88 122.01 L651.07 121.42 L651.25 120.85 L651.44 120.28 L651.63 119.72 L651.82 119.16 L652.01 118.61 L652.19 118.07 L652.38 117.54 L652.57 117.01 L652.76 116.5 L652.95 115.99 L653.13 115.49 L653.32 115.01 L653.51 114.53 L653.7 114.06 L653.89 113.6 L654.07 113.16 L654.26 112.72 L654.45 112.3 L654.64 111.89 L654.83 111.48 L655.01 111.09 L655.2 110.72 L655.39 110.35 L655.58 110 L655.77 109.66 L655.95 109.33 L656.14 109.01 L656.33 108.71 L656.52 108.42 L656.71 108.14 L656.89 107.88 L657.08 107.63 L657.27 107.39 L657.46 107.17 L657.65 106.95 L657.83 106.76 L658.02 106.57 L658.21 106.4 L658.4 106.24 L658.59 106.1 L658.77 105.97 L658.96 105.85 L659.15 105.75 L659.34 105.66 L659.53 105.58 L659.71 105.52 L659.9 105.47 L660.09 105.43 L660.28 105.41 L660.47 105.4 L660.65 105.4 L660.84 105.42 L661.03 105.45 L661.22 105.5 L661.41 105.55 L661.59 105.62 L661.78 105.7 L661.97 105.8 L662.16 105.9 L662.35 106.02 L662.53 106.15 L662.72 106.3 L662.91 106.45 L663.1 106.62 L663.29 106.8 L663.47 106.99 L663.66 107.19 L663.85 107.4 L664.04 107.63 L664.23 107.86 L664.41 108.11 L664.6 108.36 L664.79 108.63 L664.98 108.91 L665.17 109.19 L665.35 109.49 L665.54 109.8 L665.73 110.11 L665.92 110.44 L666.11 110.77 L666.29 111.11 L666.48 111.46 L666.67 111.82 L666.86 112.19 L667.05 112.57 L667.23 112.95 L667.42 113.34 L667.61 113.74 L667.8 114.14 L667.99 114.55 L668.17 114.97 L668.36 115.39 L668.55 115.81 L668.74 116.25 L668.93 116.68 L669.11 117.12 L669.3 117.57 L669.49 118.02 L669.68 118.47 L669.87 118.92 L670.05 119.38 L670.24 119.84 L670.43 120.3 L670.62 120.76 L670.81 121.22 L670.99 121.68 L671.18 122.14 L671.37 122.6 L671.56 123.06 L671.75 123.52 L671.93 123.98 L672.12 124.43 L672.31 124.88 L672.5 125.33 L672.69 125.77 L672.87 126.21 L673.06 126.64 L673.25 127.07 L673.44 127.5 L673.63 127.91 L673.81 128.32 L674 128.72 L674.19 129.12 L674.38 129.5 L674.57 129.88 L674.75 130.25 L674.94 130.61 L675.13 130.95 L675.32 131.29 L675.51 131.62 L675.69 131.93 L675.88 132.24 L676.07 132.53 L676.26 132.8 L676.45 133.07 L676.63 133.32 L676.82 133.56 L677.01 133.78 L677.2 133.99 L677.39 134.18 L677.57 134.36 L677.76 134.52 L677.95 134.67 L678.14 134.8 L678.33 134.91 L678.51 135.01 L678.7 135.09 L678.89 135.16 L679.08 135.21 L679.27 135.24 L679.45 135.25 L679.64 135.24 L679.83 135.22 L680.02 135.18 L680.21 135.13 L680.39 135.05 L680.58 134.96 L680.77 134.85 L680.96 134.72 L681.15 134.58 L681.33 134.42 L681.52 134.24 L681.71 134.04 L681.9 133.83 L682.09 133.6 L682.27 133.35 L682.46 133.09 L682.65 132.81 L682.84 132.51 L683.03 132.2 L683.21 131.88 L683.4 131.54 L683.59 131.18 L683.78 130.82 L683.97 130.44 L684.15 130.04 L684.34 129.64 L684.53 129.22 L684.72 128.8 L684.91 128.36 L685.09 127.91 L685.28 127.45 L685.47 126.99 L685.66 126.52 L685.85 126.03 L686.03 125.55 L686.22 125.05 L686.41 124.56 L686.6 124.05 L686.79 123.55 L686.97 123.04 L687.16 122.52 L687.35 122.01 L687.54 121.49 L687.73 120.97 L687.91 120.46 L688.1 119.94 L688.29 119.43 L688.48 118.91 L688.67 118.4 L688.85 117.89 L689.04 117.39 L689.23 116.89 L689.42 116.39 L689.61 115.9 L689.79 115.42 L689.98 114.94 L690.17 114.46 L690.36 114 L690.55 113.54 L690.73 113.09 L690.92 112.65 L691.11 112.22 L691.3 111.8 L691.48 111.38 L691.67 110.98 L691.86 110.59 L692.05 110.2 L692.24 109.83 L692.42 109.47 L692.61 109.12 L692.8 108.78 L692.99 108.45 L693.18 108.14 L693.36 107.83 L693.55 107.54 L693.74 107.26 L693.93 106.99 L694.12 106.74 L694.3 106.49 L694.49 106.26 L694.68 106.04 L694.87 105.84 L695.06 105.64 L695.24 105.46 L695.43 105.29 L695.62 105.13 L695.81 104.99 L696 104.86 L696.18 104.74 L696.37 104.63 L696.56 104.54 L696.75 104.45 L696.94 104.38 L697.12 104.32 L697.31 104.28 L697.5 104.24 L697.69 104.22 L697.88 104.2 L698.06 104.2 L698.25 104.21 L698.44 104.23 L698.63 104.26 L698.82 104.3 L699 104.36 L699.19 104.42 L699.38 104.49 L699.57 104.57 L699.76 104.67 L699.94 104.77 L700.13 104.88 L700.32 105 L700.51 105.13 L700.7 105.27 L700.88 105.42 L701.07 105.58 L701.26 105.75 L701.45 105.92 L701.64 106.11 L701.82 106.3 L702.01 106.5 L702.2 106.71 L702.39 106.92 L702.58 107.15 L702.76 107.38 L702.95 107.61 L703.14 107.86 L703.33 108.11 L703.52 108.37 L703.7 108.63 L703.89 108.9 L704.08 109.18 L704.27 109.46 L704.46 109.75 L704.64 110.04 L704.83 110.34 L705.02 110.64 L705.21 110.95 L705.4 111.26 L705.58 111.58 L705.77 111.9 L705.96 112.22 L706.15 112.55 L706.34 112.88 L706.52 113.21 L706.71 113.54 L706.9 113.88 L707.09 114.22 L707.28 114.56 L707.46 114.9 L707.65 115.24 L707.84 115.59 L708.03 115.93 L708.22 116.28 L708.4 116.62 L708.59 116.96 L708.78 117.3 L708.97 117.65 L709.16 117.99 L709.34 118.32 L709.53 118.66 L709.72 118.99 L709.91 119.32 L710.1 119.65 L710.28 119.98 L710.47 120.3 L710.66 120.61 L710.85 120.92 L711.04 121.23 L711.22 121.53 L711.41 121.83 L711.6 122.12 L711.79 122.4 L711.98 122.68 L712.16 122.95 L712.35 123.21 L712.54 123.47 L712.73 123.72 L712.92 123.96 L713.1 124.19 L713.29 124.41 L713.48 124.63 L713.67 124.83 L713.86 125.03 L714.04 125.21 L714.23 125.39 L714.42 125.55 L714.61 125.71 L714.8 125.85 L714.98 125.98 L715.17 126.11 L715.36 126.22 L715.55 126.31 L715.74 126.4 L715.92 126.47 L716.11 126.54 L716.3 126.58" stroke="#1236ff" stroke-width="2.3"/>
<path d="M415.9 312.5 L415.9 311.95 L415.9 311.4 L415.91 310.85 L415.91 310.3 L415.91 309.75 L415.91 309.21 L415.91 308.66 L415.91 308.11 L415.92 307.56 L415.92 307.01 L415.92 306.46 L415.92 305.91 L415.92 305.36 L415.93 304.81 L415.93 304.26 L415.93 303.72 L415.93 303.17 L415.93 302.62 L415.94 302.07 L415.94 301.52 L415.94 300.97 L415.94 300.42 L415.95 299.87 L415.95 299.32 L415.95 298.77 L415.95 298.22 L415.96 297.68 L415.96 297.13 L415.96 296.58 L415.96 296.03 L415.96 295.48 L415.97 294.93 L415.97 294.38 L415.97 293.83 L415.97 293.28 L415.98 292.73 L415.98 292.18 L415.98 291.64 L415.99 291.09 L415.99 290.54 L415.99 289.99 L415.99 289.44 L416 288.89 L416 288.34 L416 287.79 L416 287.24 L416.01 286.69 L416.01 286.15 L416.01 285.6 L416.02 285.05 L416.02 284.5 L416.02 283.95 L416.02 283.4 L416.03 282.85 L416.03 282.3 L416.03 281.75 L416.04 281.2 L416.04 280.65 L416.04 280.11 L416.05 279.56 L416.05 279.01 L416.05 278.46 L416.05 277.91 L416.06 277.36 L416.06 276.81 L416.06 276.26 L416.07 275.71 L416.07 275.16 L416.07 274.62 L416.08 274.07 L416.08 273.52 L416.08 272.97 L416.09 272.42 L416.09 271.87 L416.09 271.32 L416.1 270.77 L416.1 270.22 L416.1 269.67 L416.11 269.12 L416.11 268.58 L416.11 268.03 L416.12 267.48 L416.12 266.93 L416.12 266.38 L416.13 265.83 L416.13 265.28 L416.13 264.73 L416.14 264.18 L416.14 263.63 L416.14 263.09 L416.15 262.54 L416.15 261.99 L416.15 261.44 L416.16 260.89 L416.16 260.34 L416.17 259.79 L416.17 259.24 L416.17 258.69 L416.18 258.14 L416.18 257.59 L416.18 257.05 L416.19 256.5 L416.19 255.95 L416.2 255.4 L416.2 254.85 L416.2 254.3 L416.21 253.75 L416.21 253.2 L416.22 252.65 L416.22 252.1 L416.23 251.56 L416.23 251.01 L416.23 250.46 L416.24 249.91 L416.24 249.36 L416.25 248.81 L416.25 248.26 L416.26 247.71 L416.26 247.16 L416.27 246.61 L416.27 246.06 L416.27 245.52 L416.28 244.97 L416.28 244.42 L416.29 243.87 L416.29 243.32 L416.3 242.77 L416.3 242.22 L416.31 241.67 L416.31 241.12 L416.32 240.57 L416.32 240.03 L416.33 239.48 L416.33 238.93 L416.34 238.38 L416.34 237.83 L416.35 237.28 L416.35 236.73 L416.36 236.18 L416.36 235.63 L416.37 235.08 L416.37 234.53 L416.38 233.99 L416.39 233.44 L416.39 232.89 L416.4 232.34 L416.4 231.79 L416.41 231.24 L416.41 230.69 L416.42 230.14 L416.42 229.59 L416.43 229.04 L416.43 228.5 L416.44 227.95 L416.45 227.4 L416.45 226.85 L416.46 226.3 L416.46 225.75 L416.47 225.2 L416.47 224.65 L416.48 224.1 L416.48 223.55 L416.49 223 L416.49 222.46 L416.5 221.91 L416.5 221.36 L416.51 220.81 L416.52 220.26 L416.52 219.71 L416.53 219.16 L416.53 218.61 L416.54 218.06 L416.55 217.51 L416.55 216.96 L416.56 216.41 L416.56 215.87 L416.57 215.32 L416.58 214.77 L416.58 214.22 L416.59 213.67 L416.6 213.12 L416.6 212.57 L416.61 212.02 L416.62 211.47 L416.63 210.92 L416.63 210.37 L416.64 209.83 L416.65 209.28 L416.66 208.73 L416.66 208.18 L416.67 207.63 L416.68 207.08 L416.69 206.53 L416.7 205.98 L416.71 205.43 L416.72 204.88 L416.73 204.34 L416.74 203.79 L416.75 203.24 L416.76 202.69 L416.77 202.14 L416.78 201.59 L416.79 201.04 L416.8 200.49 L416.81 199.95 L416.82 199.4 L416.83 198.85 L416.85 198.3 L416.86 197.75 L416.87 197.2 L416.88 196.65 L416.9 196.1 L416.91 195.56 L416.93 195.01 L416.94 194.46 L416.96 193.91 L416.98 193.36 L417 192.81 L417.02 192.26 L417.04 191.71 L417.07 191.16 L417.09 190.61 L417.12 190.06 L417.15 189.51 L417.19 188.96 L417.22 188.42 L417.26 187.87 L417.3 187.32 L417.34 186.78 L417.38 186.23 L417.43 185.69 L417.49 185.14 L417.57 184.6 L417.66 184.06 L417.76 183.52 L417.87 182.97 L417.99 182.44 L418.11 181.9 L418.23 181.37 L418.38 180.84 L418.54 180.31 L418.72 179.79 L418.89 179.27 L419.04 178.74 L419.16 178.21 L419.27 177.67 L419.36 177.12 L419.44 176.58 L419.53 176.03 L419.62 175.48 L419.72 174.95 L419.84 174.42 L419.99 173.88 L420.18 173.3 L420.43 172.8" stroke="#ff0000" stroke-width="2.2" stroke-dasharray="8.3 7.5" stroke-dashoffset="0.6"/><path d="M420.43 172.8 L420.74 172.51 L421.22 172.31 L421.79 172.16 L422.38 172.03 L422.91 171.91 L423.44 171.8 L423.98 171.7 L424.52 171.6 L425.06 171.51 L425.61 171.43 L426.15 171.34 L426.7 171.26 L427.24 171.18 L427.79 171.1 L428.33 171.02 L428.87 170.94 L429.1 170.9 M435.8 169.8 L435.92 169.78 L436.46 169.68 L437 169.57 L437.53 169.47 L438.07 169.36 L438.61 169.25 L439.15 169.13 L439.69 169.02 L440.22 168.91 L440.76 168.8 L441.3 168.69 L441.84 168.58 L442.38 168.48 L442.8 168.4 M450.6 167.1 L451.04 167.02 L451.58 166.92 L452.12 166.82 L452.66 166.72 L453.2 166.61 L453.74 166.5 L454.27 166.4 L454.81 166.29 L455.35 166.18 L455.89 166.08 L456.43 165.97 L456.97 165.86 L457.51 165.76 L458.05 165.66 L458.59 165.56 L458.9 165.5 M465.3 164.4 L465.62 164.35 L466.16 164.27 L466.71 164.2 L467.25 164.12 L467.8 164.05 L468.34 163.98 L468.89 163.91 L469.43 163.84 L469.98 163.77 L470.52 163.71 L471.07 163.64 L471.61 163.57 L472.15 163.5 L472.7 163.42 L473.24 163.35 L473.4 163.33 M480.4 162.29 L480.85 162.23 L481.39 162.14 L481.93 162.06 L482.47 161.97 L483.02 161.89 L483.56 161.8 L484.1 161.72 L484.64 161.63 L485.19 161.55 L485.73 161.46 L486.27 161.37 L486.81 161.29 L487.35 161.2 L487.9 161.11 L488.2 161.07 M495.5 159.9 L496.03 159.82 L496.57 159.73 L497.12 159.65 L497.66 159.56 L498.2 159.48 L498.74 159.39 L499.29 159.31 L499.83 159.23 L500.37 159.14 L500.91 159.06 L501.46 158.98 L502 158.89 L502.54 158.81 L503.08 158.73 L503.6 158.65 M510.8 157.53 L511.22 157.47 L511.77 157.38 L512.31 157.3 L512.85 157.22 L513.4 157.13 L513.94 157.05 L514.48 156.96 L515.02 156.88 L515.57 156.8 L516.11 156.71 L516.65 156.63 L517.19 156.55 L517.74 156.46 L518.28 156.38 L518.82 156.3 L519.37 156.22 L519.91 156.13 L520.45 156.05 L520.99 155.97 L521.54 155.89 L522.08 155.8 L522.62 155.72 L523.17 155.64 L523.71 155.56 L524.25 155.48 L524.8 155.4 L525.34 155.32 L525.88 155.24 L526.42 155.16 L526.97 155.08 L527.1 155.06 M535.2 153.9 L535.66 153.83 L536.21 153.76 L536.75 153.68 L537.29 153.61 L537.84 153.53 L538.38 153.46 L538.93 153.38 L539.47 153.31 L540.01 153.24 L540.56 153.16 L541.1 153.09 L541.65 153.01 L542.19 152.94 L542.6 152.89 M550.3 151.86 L550.35 151.85 L550.9 151.78 L551.44 151.71 L551.99 151.64 L552.53 151.57 L553.08 151.5 L553.62 151.42 L554.16 151.35 L554.71 151.28 L555.25 151.21 L555.8 151.14 L556.34 151.07 L556.89 151 L557.43 150.93 L557.7 150.9 M565 149.97 L565.06 149.97 L565.6 149.9 L566.15 149.83 L566.69 149.76 L567.24 149.7 L567.78 149.63 L568.33 149.56 L568.87 149.49 L569.42 149.43 L569.96 149.36 L570.51 149.29 L571.05 149.23 L571.6 149.16 L572.14 149.1 L572.69 149.03 L572.9 149 M580.1 148.15 L580.32 148.12 L580.87 148.06 L581.41 148 L581.96 147.93 L582.51 147.87 L583.05 147.81 L583.6 147.74 L584.14 147.68 L584.69 147.62 L585.23 147.56 L585.78 147.49 L586.32 147.43 L586.87 147.37 L587.41 147.31 L587.96 147.25 L588.2 147.22 M595.8 146.42 L596.15 146.38 L596.7 146.33 L597.24 146.27 L597.79 146.21 L598.33 146.15 L598.88 146.1 L599.43 146.04 L599.97 145.98 L600.52 145.92 L601.06 145.86 L601.61 145.8 L602.16 145.75 L602.7 145.69 L603.25 145.63 L603.7 145.58 M611.6 144.73 L611.98 144.69 L612.53 144.63 L613.07 144.57 L613.62 144.51 L614.17 144.45 L614.71 144.39 L615.26 144.33 L615.8 144.27 L616.35 144.21 L616.9 144.15 L617.44 144.1 L617.99 144.04 L618.53 143.98 L619.08 143.92 L619.63 143.86 L620.17 143.8 L620.72 143.74 L621.26 143.68 L621.81 143.62 L622.36 143.56 L622.9 143.51 L623.45 143.45 L623.99 143.39 L624.54 143.33 L625 143.28 M633.3 142.4 L633.82 142.34 L634.37 142.28 L634.91 142.23 L635.46 142.17 L636.01 142.11 L636.55 142.05 L637.1 142 L637.64 141.94 L638.19 141.88 L638.74 141.83 L639.28 141.77 L639.83 141.72 L640.37 141.66 L640.92 141.6 L641.1 141.58 M648 140.89 L648.02 140.89 L648.57 140.83 L649.11 140.78 L649.66 140.73 L650.21 140.67 L650.75 140.62 L651.3 140.57 L651.85 140.51 L652.39 140.46 L652.94 140.41 L653.49 140.36 L654.03 140.3 L654.58 140.25 L655.13 140.2 L655.67 140.15 L656.22 140.1 L656.5 140.07 M664.4 139.34 L664.42 139.34 L664.97 139.29 L665.51 139.24 L666.06 139.19 L666.61 139.14 L667.15 139.09 L667.7 139.04 L668.25 138.99 L668.79 138.94 L669.34 138.89 L669.89 138.84 L670.43 138.79 L670.98 138.75 L671.53 138.7 L672.07 138.65 L672.3 138.63 M679.6 137.98 L679.73 137.97 L680.28 137.93 L680.82 137.88 L681.37 137.83 L681.92 137.78 L682.47 137.74 L683.01 137.69 L683.56 137.64 L684.11 137.6 L684.65 137.55 L685.2 137.5 L685.75 137.46 L686.3 137.41 L686.84 137.36 L687.39 137.32 L687.94 137.27 L688.48 137.22 L689.03 137.18 L689.58 137.13 L690.13 137.09 L690.5 137.05 M696.4 136.57 L696.69 136.54 L697.24 136.5 L697.79 136.45 L698.33 136.41 L698.88 136.36 L699.43 136.32 L699.98 136.28 L700.52 136.23 L701.07 136.19 L701.62 136.14 L702.17 136.1 L702.71 136.06 L703.26 136.01 L703.81 135.97 L704.3 135.93 M711.2 135.39 L711.47 135.37 L712.02 135.33 L712.57 135.29 L713.11 135.25 L713.66 135.21 L714.21 135.16 L714.76 135.12 L715.3 135.08 L715.85 135.04 L716.4 135 L717 135" stroke="#ff0000" stroke-width="2.2"/>
</g>
<text x="42.2" y="25.05" text-anchor="end">1</text>
<text x="42.2" y="54.3" text-anchor="end">0.8</text>
<text x="42.2" y="83.55" text-anchor="end">0.6</text>
<text x="42.2" y="112.8" text-anchor="end">0.4</text>
<text x="42.2" y="142.05" text-anchor="end">0.2</text>
<text x="42.2" y="171.3" text-anchor="end">0</text>
<text x="45.6" y="200.55" text-anchor="end">−0.2</text>
<text x="45.6" y="229.8" text-anchor="end">−0.4</text>
<text x="45.6" y="259.05" text-anchor="end">−0.6</text>
<text x="45.6" y="288.3" text-anchor="end">−0.8</text>
<text x="45.6" y="317.55" text-anchor="end">−1</text>
<text x="45.5" y="328.6" text-anchor="middle">0</text>
<text x="105.43" y="328.6" text-anchor="middle">1</text>
<text x="165.36" y="328.6" text-anchor="middle">2</text>
<text x="225.29" y="328.6" text-anchor="middle">3</text>
<text x="285.22" y="328.6" text-anchor="middle">4</text>
<text x="345.15" y="328.6" text-anchor="middle">5</text>
<text x="412.4" y="317.55" text-anchor="end">0</text>
<text x="412.4" y="275.76" text-anchor="end">0.1</text>
<text x="412.4" y="233.98" text-anchor="end">0.2</text>
<text x="412.4" y="192.19" text-anchor="end">0.3</text>
<text x="412.4" y="150.41" text-anchor="end">0.4</text>
<text x="412.4" y="108.62" text-anchor="end">0.5</text>
<text x="412.4" y="66.84" text-anchor="end">0.6</text>
<text x="412.4" y="25.05" text-anchor="end">0.7</text>
<text x="415.7" y="328.6" text-anchor="middle">0</text>
<text x="475.82" y="328.6" text-anchor="middle">1</text>
<text x="535.94" y="328.6" text-anchor="middle">2</text>
<text x="596.06" y="328.6" text-anchor="middle">3</text>
<text x="656.18" y="328.6" text-anchor="middle">4</text>
<text x="717.2" y="328.6" text-anchor="middle">5</text>
<text x="195.2" y="10.4" text-anchor="middle">(a)</text>
<text x="565.3" y="10.4" text-anchor="middle">(b)</text>
<text x="194" y="345.2" text-anchor="middle">t</text>
<text x="564.8" y="345.2" text-anchor="middle">t</text>
<text transform="translate(9.8 164) rotate(-90)" text-anchor="middle">Secret key rate</text>
<text transform="translate(382.7 166.5) rotate(-90)" text-anchor="middle">QBER</text>
<path d="M175 48.3h39.6" stroke="#1236ff" stroke-width="2.3" fill="none"/><path d="M175 67.8h39.6" stroke="#ff0000" stroke-width="2.2" fill="none" stroke-dasharray="8.2 7.7"/><text x="218.6" y="54.2">non−Markovian case</text><text x="218.6" y="73.1">Markovian case</text>
<path d="M545.8 51.3h39.6" stroke="#1236ff" stroke-width="2.3" fill="none"/><path d="M545.8 70.3h39.6" stroke="#ff0000" stroke-width="2.2" fill="none" stroke-dasharray="8.2 7.7"/><text x="589.4" y="57.2">non−Markovian case</text><text x="589.4" y="75.6">Markovian case</text>
</g>
</svg>
</body></html>
